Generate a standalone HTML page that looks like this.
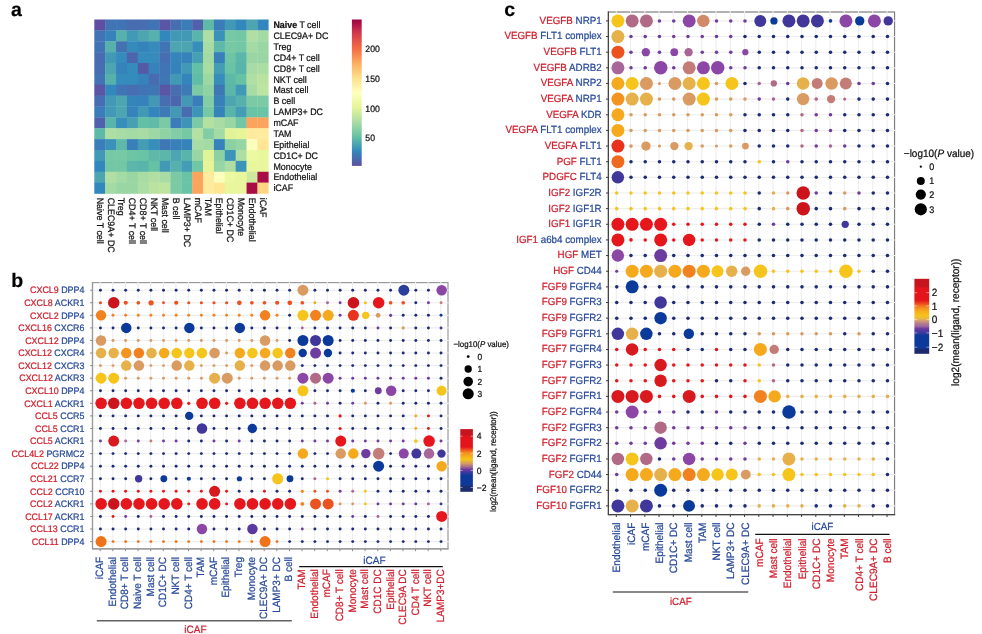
<!DOCTYPE html>
<html><head><meta charset="utf-8"><title>figure</title>
<style>
html,body{margin:0;padding:0;background:#fff;}
body{width:982px;height:634px;overflow:hidden;}
text{stroke-width:0.22px;}
svg{display:block;filter:blur(0.4px);font-family:"Liberation Sans", sans-serif;text-rendering:geometricPrecision;}
</style></head>
<body>
<svg width="982" height="634" viewBox="0 0 982 634">
<rect width="982" height="634" fill="#fff"/>
<text x="11" y="15.8" font-size="19.5" font-weight="bold" fill="#000" stroke="#000">a</text>
<text x="11.2" y="286.6" font-size="19.5" font-weight="bold" fill="#000" stroke="#000">b</text>
<text x="504.3" y="15.8" font-size="19.5" font-weight="bold" fill="#000" stroke="#000">c</text>
<rect x="94.30" y="19.50" width="11.18" height="11.18" fill="#5e4fa2"/>
<rect x="105.17" y="19.50" width="11.18" height="11.18" fill="#4174b4"/>
<rect x="116.05" y="19.50" width="11.18" height="11.18" fill="#4174b4"/>
<rect x="126.92" y="19.50" width="11.18" height="11.18" fill="#486cb0"/>
<rect x="137.80" y="19.50" width="11.18" height="11.18" fill="#466eb1"/>
<rect x="148.68" y="19.50" width="11.18" height="11.18" fill="#4174b4"/>
<rect x="159.55" y="19.50" width="11.18" height="11.18" fill="#5a55a5"/>
<rect x="170.43" y="19.50" width="11.18" height="11.18" fill="#466eb1"/>
<rect x="181.30" y="19.50" width="11.18" height="11.18" fill="#3b7db8"/>
<rect x="192.18" y="19.50" width="11.18" height="11.18" fill="#5160aa"/>
<rect x="203.05" y="19.50" width="11.18" height="11.18" fill="#5eb9a9"/>
<rect x="213.93" y="19.50" width="11.18" height="11.18" fill="#3b7db8"/>
<rect x="224.80" y="19.50" width="11.18" height="11.18" fill="#4299b6"/>
<rect x="235.68" y="19.50" width="11.18" height="11.18" fill="#3288bd"/>
<rect x="246.55" y="19.50" width="11.18" height="11.18" fill="#4ca5b1"/>
<rect x="257.43" y="19.50" width="11.18" height="11.18" fill="#3288bd"/>
<rect x="94.30" y="30.38" width="11.18" height="11.18" fill="#4174b4"/>
<rect x="105.17" y="30.38" width="11.18" height="11.18" fill="#3682ba"/>
<rect x="116.05" y="30.38" width="11.18" height="11.18" fill="#56b1ac"/>
<rect x="126.92" y="30.38" width="11.18" height="11.18" fill="#4299b6"/>
<rect x="137.80" y="30.38" width="11.18" height="11.18" fill="#4ca5b1"/>
<rect x="148.68" y="30.38" width="11.18" height="11.18" fill="#56b1ac"/>
<rect x="159.55" y="30.38" width="11.18" height="11.18" fill="#3288bd"/>
<rect x="170.43" y="30.38" width="11.18" height="11.18" fill="#4299b6"/>
<rect x="181.30" y="30.38" width="11.18" height="11.18" fill="#4299b6"/>
<rect x="192.18" y="30.38" width="11.18" height="11.18" fill="#59b4ab"/>
<rect x="203.05" y="30.38" width="11.18" height="11.18" fill="#aedea3"/>
<rect x="213.93" y="30.38" width="11.18" height="11.18" fill="#3a91b9"/>
<rect x="224.80" y="30.38" width="11.18" height="11.18" fill="#77c9a5"/>
<rect x="235.68" y="30.38" width="11.18" height="11.18" fill="#74c7a5"/>
<rect x="246.55" y="30.38" width="11.18" height="11.18" fill="#b1dfa3"/>
<rect x="257.43" y="30.38" width="11.18" height="11.18" fill="#a4daa4"/>
<rect x="94.30" y="41.25" width="11.18" height="11.18" fill="#4174b4"/>
<rect x="105.17" y="41.25" width="11.18" height="11.18" fill="#56b1ac"/>
<rect x="116.05" y="41.25" width="11.18" height="11.18" fill="#4471b2"/>
<rect x="126.92" y="41.25" width="11.18" height="11.18" fill="#358bbc"/>
<rect x="137.80" y="41.25" width="11.18" height="11.18" fill="#3682ba"/>
<rect x="148.68" y="41.25" width="11.18" height="11.18" fill="#358bbc"/>
<rect x="159.55" y="41.25" width="11.18" height="11.18" fill="#4174b4"/>
<rect x="170.43" y="41.25" width="11.18" height="11.18" fill="#4ca5b1"/>
<rect x="181.30" y="41.25" width="11.18" height="11.18" fill="#4ca5b1"/>
<rect x="192.18" y="41.25" width="11.18" height="11.18" fill="#378ebb"/>
<rect x="203.05" y="41.25" width="11.18" height="11.18" fill="#a8dca4"/>
<rect x="213.93" y="41.25" width="11.18" height="11.18" fill="#5eb9a9"/>
<rect x="224.80" y="41.25" width="11.18" height="11.18" fill="#77c9a5"/>
<rect x="235.68" y="41.25" width="11.18" height="11.18" fill="#74c7a5"/>
<rect x="246.55" y="41.25" width="11.18" height="11.18" fill="#a4daa4"/>
<rect x="257.43" y="41.25" width="11.18" height="11.18" fill="#9ad6a4"/>
<rect x="94.30" y="52.12" width="11.18" height="11.18" fill="#486cb0"/>
<rect x="105.17" y="52.12" width="11.18" height="11.18" fill="#4299b6"/>
<rect x="116.05" y="52.12" width="11.18" height="11.18" fill="#358bbc"/>
<rect x="126.92" y="52.12" width="11.18" height="11.18" fill="#4c66ad"/>
<rect x="137.80" y="52.12" width="11.18" height="11.18" fill="#358bbc"/>
<rect x="148.68" y="52.12" width="11.18" height="11.18" fill="#358bbc"/>
<rect x="159.55" y="52.12" width="11.18" height="11.18" fill="#466eb1"/>
<rect x="170.43" y="52.12" width="11.18" height="11.18" fill="#3485bc"/>
<rect x="181.30" y="52.12" width="11.18" height="11.18" fill="#3682ba"/>
<rect x="192.18" y="52.12" width="11.18" height="11.18" fill="#479fb3"/>
<rect x="203.05" y="52.12" width="11.18" height="11.18" fill="#a4daa4"/>
<rect x="213.93" y="52.12" width="11.18" height="11.18" fill="#397fb9"/>
<rect x="224.80" y="52.12" width="11.18" height="11.18" fill="#6dc5a5"/>
<rect x="235.68" y="52.12" width="11.18" height="11.18" fill="#5cb6aa"/>
<rect x="246.55" y="52.12" width="11.18" height="11.18" fill="#9ad6a4"/>
<rect x="257.43" y="52.12" width="11.18" height="11.18" fill="#9ad6a4"/>
<rect x="94.30" y="63.00" width="11.18" height="11.18" fill="#466eb1"/>
<rect x="105.17" y="63.00" width="11.18" height="11.18" fill="#4ca5b1"/>
<rect x="116.05" y="63.00" width="11.18" height="11.18" fill="#3682ba"/>
<rect x="126.92" y="63.00" width="11.18" height="11.18" fill="#358bbc"/>
<rect x="137.80" y="63.00" width="11.18" height="11.18" fill="#555aa7"/>
<rect x="148.68" y="63.00" width="11.18" height="11.18" fill="#3682ba"/>
<rect x="159.55" y="63.00" width="11.18" height="11.18" fill="#4174b4"/>
<rect x="170.43" y="63.00" width="11.18" height="11.18" fill="#3682ba"/>
<rect x="181.30" y="63.00" width="11.18" height="11.18" fill="#4299b6"/>
<rect x="192.18" y="63.00" width="11.18" height="11.18" fill="#63bfa6"/>
<rect x="203.05" y="63.00" width="11.18" height="11.18" fill="#a8dca4"/>
<rect x="213.93" y="63.00" width="11.18" height="11.18" fill="#449cb5"/>
<rect x="224.80" y="63.00" width="11.18" height="11.18" fill="#69c3a5"/>
<rect x="235.68" y="63.00" width="11.18" height="11.18" fill="#59b4ab"/>
<rect x="246.55" y="63.00" width="11.18" height="11.18" fill="#a8dca4"/>
<rect x="257.43" y="63.00" width="11.18" height="11.18" fill="#abdda4"/>
<rect x="94.30" y="73.88" width="11.18" height="11.18" fill="#4174b4"/>
<rect x="105.17" y="73.88" width="11.18" height="11.18" fill="#56b1ac"/>
<rect x="116.05" y="73.88" width="11.18" height="11.18" fill="#358bbc"/>
<rect x="126.92" y="73.88" width="11.18" height="11.18" fill="#358bbc"/>
<rect x="137.80" y="73.88" width="11.18" height="11.18" fill="#3682ba"/>
<rect x="148.68" y="73.88" width="11.18" height="11.18" fill="#486cb0"/>
<rect x="159.55" y="73.88" width="11.18" height="11.18" fill="#3f77b5"/>
<rect x="170.43" y="73.88" width="11.18" height="11.18" fill="#4299b6"/>
<rect x="181.30" y="73.88" width="11.18" height="11.18" fill="#3485bc"/>
<rect x="192.18" y="73.88" width="11.18" height="11.18" fill="#61bca7"/>
<rect x="203.05" y="73.88" width="11.18" height="11.18" fill="#9dd8a4"/>
<rect x="213.93" y="73.88" width="11.18" height="11.18" fill="#378ebb"/>
<rect x="224.80" y="73.88" width="11.18" height="11.18" fill="#5eb9a9"/>
<rect x="235.68" y="73.88" width="11.18" height="11.18" fill="#66c2a5"/>
<rect x="246.55" y="73.88" width="11.18" height="11.18" fill="#b1dfa3"/>
<rect x="257.43" y="73.88" width="11.18" height="11.18" fill="#bae3a1"/>
<rect x="94.30" y="84.75" width="11.18" height="11.18" fill="#5a55a5"/>
<rect x="105.17" y="84.75" width="11.18" height="11.18" fill="#3288bd"/>
<rect x="116.05" y="84.75" width="11.18" height="11.18" fill="#4174b4"/>
<rect x="126.92" y="84.75" width="11.18" height="11.18" fill="#466eb1"/>
<rect x="137.80" y="84.75" width="11.18" height="11.18" fill="#4174b4"/>
<rect x="148.68" y="84.75" width="11.18" height="11.18" fill="#3f77b5"/>
<rect x="159.55" y="84.75" width="11.18" height="11.18" fill="#5a55a5"/>
<rect x="170.43" y="84.75" width="11.18" height="11.18" fill="#466eb1"/>
<rect x="181.30" y="84.75" width="11.18" height="11.18" fill="#3d7ab6"/>
<rect x="192.18" y="84.75" width="11.18" height="11.18" fill="#7bcaa5"/>
<rect x="203.05" y="84.75" width="11.18" height="11.18" fill="#8fd2a4"/>
<rect x="213.93" y="84.75" width="11.18" height="11.18" fill="#3f77b5"/>
<rect x="224.80" y="84.75" width="11.18" height="11.18" fill="#5cb6aa"/>
<rect x="235.68" y="84.75" width="11.18" height="11.18" fill="#4299b6"/>
<rect x="246.55" y="84.75" width="11.18" height="11.18" fill="#a8dca4"/>
<rect x="257.43" y="84.75" width="11.18" height="11.18" fill="#bde4a0"/>
<rect x="94.30" y="95.62" width="11.18" height="11.18" fill="#466eb1"/>
<rect x="105.17" y="95.62" width="11.18" height="11.18" fill="#4299b6"/>
<rect x="116.05" y="95.62" width="11.18" height="11.18" fill="#4ca5b1"/>
<rect x="126.92" y="95.62" width="11.18" height="11.18" fill="#3485bc"/>
<rect x="137.80" y="95.62" width="11.18" height="11.18" fill="#3682ba"/>
<rect x="148.68" y="95.62" width="11.18" height="11.18" fill="#4299b6"/>
<rect x="159.55" y="95.62" width="11.18" height="11.18" fill="#466eb1"/>
<rect x="170.43" y="95.62" width="11.18" height="11.18" fill="#4c66ad"/>
<rect x="181.30" y="95.62" width="11.18" height="11.18" fill="#4299b6"/>
<rect x="192.18" y="95.62" width="11.18" height="11.18" fill="#3b7db8"/>
<rect x="203.05" y="95.62" width="11.18" height="11.18" fill="#82cda5"/>
<rect x="213.93" y="95.62" width="11.18" height="11.18" fill="#397fb9"/>
<rect x="224.80" y="95.62" width="11.18" height="11.18" fill="#4ca5b1"/>
<rect x="235.68" y="95.62" width="11.18" height="11.18" fill="#56b1ac"/>
<rect x="246.55" y="95.62" width="11.18" height="11.18" fill="#7bcaa5"/>
<rect x="257.43" y="95.62" width="11.18" height="11.18" fill="#7bcaa5"/>
<rect x="94.30" y="106.50" width="11.18" height="11.18" fill="#3b7db8"/>
<rect x="105.17" y="106.50" width="11.18" height="11.18" fill="#4299b6"/>
<rect x="116.05" y="106.50" width="11.18" height="11.18" fill="#4ca5b1"/>
<rect x="126.92" y="106.50" width="11.18" height="11.18" fill="#3682ba"/>
<rect x="137.80" y="106.50" width="11.18" height="11.18" fill="#4299b6"/>
<rect x="148.68" y="106.50" width="11.18" height="11.18" fill="#3485bc"/>
<rect x="159.55" y="106.50" width="11.18" height="11.18" fill="#3d7ab6"/>
<rect x="170.43" y="106.50" width="11.18" height="11.18" fill="#4299b6"/>
<rect x="181.30" y="106.50" width="11.18" height="11.18" fill="#486cb0"/>
<rect x="192.18" y="106.50" width="11.18" height="11.18" fill="#3c94b8"/>
<rect x="203.05" y="106.50" width="11.18" height="11.18" fill="#77c9a5"/>
<rect x="213.93" y="106.50" width="11.18" height="11.18" fill="#3682ba"/>
<rect x="224.80" y="106.50" width="11.18" height="11.18" fill="#59b4ab"/>
<rect x="235.68" y="106.50" width="11.18" height="11.18" fill="#449cb5"/>
<rect x="246.55" y="106.50" width="11.18" height="11.18" fill="#69c3a5"/>
<rect x="257.43" y="106.50" width="11.18" height="11.18" fill="#69c3a5"/>
<rect x="94.30" y="117.38" width="11.18" height="11.18" fill="#5160aa"/>
<rect x="105.17" y="117.38" width="11.18" height="11.18" fill="#59b4ab"/>
<rect x="116.05" y="117.38" width="11.18" height="11.18" fill="#378ebb"/>
<rect x="126.92" y="117.38" width="11.18" height="11.18" fill="#479fb3"/>
<rect x="137.80" y="117.38" width="11.18" height="11.18" fill="#63bfa6"/>
<rect x="148.68" y="117.38" width="11.18" height="11.18" fill="#61bca7"/>
<rect x="159.55" y="117.38" width="11.18" height="11.18" fill="#7bcaa5"/>
<rect x="170.43" y="117.38" width="11.18" height="11.18" fill="#3b7db8"/>
<rect x="181.30" y="117.38" width="11.18" height="11.18" fill="#3c94b8"/>
<rect x="192.18" y="117.38" width="11.18" height="11.18" fill="#7bcaa5"/>
<rect x="203.05" y="117.38" width="11.18" height="11.18" fill="#b4e1a2"/>
<rect x="213.93" y="117.38" width="11.18" height="11.18" fill="#a8dca4"/>
<rect x="224.80" y="117.38" width="11.18" height="11.18" fill="#9ad6a4"/>
<rect x="235.68" y="117.38" width="11.18" height="11.18" fill="#70c6a5"/>
<rect x="246.55" y="117.38" width="11.18" height="11.18" fill="#fca45d"/>
<rect x="257.43" y="117.38" width="11.18" height="11.18" fill="#fca45d"/>
<rect x="94.30" y="128.25" width="11.18" height="11.18" fill="#5eb9a9"/>
<rect x="105.17" y="128.25" width="11.18" height="11.18" fill="#aedea3"/>
<rect x="116.05" y="128.25" width="11.18" height="11.18" fill="#a8dca4"/>
<rect x="126.92" y="128.25" width="11.18" height="11.18" fill="#a4daa4"/>
<rect x="137.80" y="128.25" width="11.18" height="11.18" fill="#a8dca4"/>
<rect x="148.68" y="128.25" width="11.18" height="11.18" fill="#9dd8a4"/>
<rect x="159.55" y="128.25" width="11.18" height="11.18" fill="#8fd2a4"/>
<rect x="170.43" y="128.25" width="11.18" height="11.18" fill="#82cda5"/>
<rect x="181.30" y="128.25" width="11.18" height="11.18" fill="#77c9a5"/>
<rect x="192.18" y="128.25" width="11.18" height="11.18" fill="#b4e1a2"/>
<rect x="203.05" y="128.25" width="11.18" height="11.18" fill="#82cda5"/>
<rect x="213.93" y="128.25" width="11.18" height="11.18" fill="#a4daa4"/>
<rect x="224.80" y="128.25" width="11.18" height="11.18" fill="#e0f399"/>
<rect x="235.68" y="128.25" width="11.18" height="11.18" fill="#e6f598"/>
<rect x="246.55" y="128.25" width="11.18" height="11.18" fill="#feeb9d"/>
<rect x="257.43" y="128.25" width="11.18" height="11.18" fill="#feeb9d"/>
<rect x="94.30" y="139.12" width="11.18" height="11.18" fill="#3b7db8"/>
<rect x="105.17" y="139.12" width="11.18" height="11.18" fill="#3a91b9"/>
<rect x="116.05" y="139.12" width="11.18" height="11.18" fill="#5eb9a9"/>
<rect x="126.92" y="139.12" width="11.18" height="11.18" fill="#397fb9"/>
<rect x="137.80" y="139.12" width="11.18" height="11.18" fill="#449cb5"/>
<rect x="148.68" y="139.12" width="11.18" height="11.18" fill="#378ebb"/>
<rect x="159.55" y="139.12" width="11.18" height="11.18" fill="#3f77b5"/>
<rect x="170.43" y="139.12" width="11.18" height="11.18" fill="#397fb9"/>
<rect x="181.30" y="139.12" width="11.18" height="11.18" fill="#3682ba"/>
<rect x="192.18" y="139.12" width="11.18" height="11.18" fill="#a8dca4"/>
<rect x="203.05" y="139.12" width="11.18" height="11.18" fill="#a4daa4"/>
<rect x="213.93" y="139.12" width="11.18" height="11.18" fill="#3682ba"/>
<rect x="224.80" y="139.12" width="11.18" height="11.18" fill="#8cd1a4"/>
<rect x="235.68" y="139.12" width="11.18" height="11.18" fill="#96d5a4"/>
<rect x="246.55" y="139.12" width="11.18" height="11.18" fill="#fcfebb"/>
<rect x="257.43" y="139.12" width="11.18" height="11.18" fill="#fee695"/>
<rect x="94.30" y="150.00" width="11.18" height="11.18" fill="#4299b6"/>
<rect x="105.17" y="150.00" width="11.18" height="11.18" fill="#77c9a5"/>
<rect x="116.05" y="150.00" width="11.18" height="11.18" fill="#77c9a5"/>
<rect x="126.92" y="150.00" width="11.18" height="11.18" fill="#6dc5a5"/>
<rect x="137.80" y="150.00" width="11.18" height="11.18" fill="#69c3a5"/>
<rect x="148.68" y="150.00" width="11.18" height="11.18" fill="#5eb9a9"/>
<rect x="159.55" y="150.00" width="11.18" height="11.18" fill="#5cb6aa"/>
<rect x="170.43" y="150.00" width="11.18" height="11.18" fill="#4ca5b1"/>
<rect x="181.30" y="150.00" width="11.18" height="11.18" fill="#59b4ab"/>
<rect x="192.18" y="150.00" width="11.18" height="11.18" fill="#9ad6a4"/>
<rect x="203.05" y="150.00" width="11.18" height="11.18" fill="#e0f399"/>
<rect x="213.93" y="150.00" width="11.18" height="11.18" fill="#8cd1a4"/>
<rect x="224.80" y="150.00" width="11.18" height="11.18" fill="#3c94b8"/>
<rect x="235.68" y="150.00" width="11.18" height="11.18" fill="#aedea3"/>
<rect x="246.55" y="150.00" width="11.18" height="11.18" fill="#ecf8a2"/>
<rect x="257.43" y="150.00" width="11.18" height="11.18" fill="#e8f69c"/>
<rect x="94.30" y="160.88" width="11.18" height="11.18" fill="#3288bd"/>
<rect x="105.17" y="160.88" width="11.18" height="11.18" fill="#74c7a5"/>
<rect x="116.05" y="160.88" width="11.18" height="11.18" fill="#74c7a5"/>
<rect x="126.92" y="160.88" width="11.18" height="11.18" fill="#5cb6aa"/>
<rect x="137.80" y="160.88" width="11.18" height="11.18" fill="#59b4ab"/>
<rect x="148.68" y="160.88" width="11.18" height="11.18" fill="#66c2a5"/>
<rect x="159.55" y="160.88" width="11.18" height="11.18" fill="#4299b6"/>
<rect x="170.43" y="160.88" width="11.18" height="11.18" fill="#56b1ac"/>
<rect x="181.30" y="160.88" width="11.18" height="11.18" fill="#449cb5"/>
<rect x="192.18" y="160.88" width="11.18" height="11.18" fill="#70c6a5"/>
<rect x="203.05" y="160.88" width="11.18" height="11.18" fill="#e6f598"/>
<rect x="213.93" y="160.88" width="11.18" height="11.18" fill="#96d5a4"/>
<rect x="224.80" y="160.88" width="11.18" height="11.18" fill="#aedea3"/>
<rect x="235.68" y="160.88" width="11.18" height="11.18" fill="#3c94b8"/>
<rect x="246.55" y="160.88" width="11.18" height="11.18" fill="#e8f69c"/>
<rect x="257.43" y="160.88" width="11.18" height="11.18" fill="#eaf69e"/>
<rect x="94.30" y="171.75" width="11.18" height="11.18" fill="#4ca5b1"/>
<rect x="105.17" y="171.75" width="11.18" height="11.18" fill="#b1dfa3"/>
<rect x="116.05" y="171.75" width="11.18" height="11.18" fill="#a4daa4"/>
<rect x="126.92" y="171.75" width="11.18" height="11.18" fill="#9ad6a4"/>
<rect x="137.80" y="171.75" width="11.18" height="11.18" fill="#a8dca4"/>
<rect x="148.68" y="171.75" width="11.18" height="11.18" fill="#b1dfa3"/>
<rect x="159.55" y="171.75" width="11.18" height="11.18" fill="#a8dca4"/>
<rect x="170.43" y="171.75" width="11.18" height="11.18" fill="#7bcaa5"/>
<rect x="181.30" y="171.75" width="11.18" height="11.18" fill="#69c3a5"/>
<rect x="192.18" y="171.75" width="11.18" height="11.18" fill="#fca45d"/>
<rect x="203.05" y="171.75" width="11.18" height="11.18" fill="#feeb9d"/>
<rect x="213.93" y="171.75" width="11.18" height="11.18" fill="#fcfebb"/>
<rect x="224.80" y="171.75" width="11.18" height="11.18" fill="#ecf8a2"/>
<rect x="235.68" y="171.75" width="11.18" height="11.18" fill="#e8f69c"/>
<rect x="246.55" y="171.75" width="11.18" height="11.18" fill="#ceeb9d"/>
<rect x="257.43" y="171.75" width="11.18" height="11.18" fill="#a90d45"/>
<rect x="94.30" y="182.62" width="11.18" height="11.18" fill="#3288bd"/>
<rect x="105.17" y="182.62" width="11.18" height="11.18" fill="#a4daa4"/>
<rect x="116.05" y="182.62" width="11.18" height="11.18" fill="#9ad6a4"/>
<rect x="126.92" y="182.62" width="11.18" height="11.18" fill="#9ad6a4"/>
<rect x="137.80" y="182.62" width="11.18" height="11.18" fill="#abdda4"/>
<rect x="148.68" y="182.62" width="11.18" height="11.18" fill="#bae3a1"/>
<rect x="159.55" y="182.62" width="11.18" height="11.18" fill="#bde4a0"/>
<rect x="170.43" y="182.62" width="11.18" height="11.18" fill="#7bcaa5"/>
<rect x="181.30" y="182.62" width="11.18" height="11.18" fill="#69c3a5"/>
<rect x="192.18" y="182.62" width="11.18" height="11.18" fill="#fca45d"/>
<rect x="203.05" y="182.62" width="11.18" height="11.18" fill="#feeb9d"/>
<rect x="213.93" y="182.62" width="11.18" height="11.18" fill="#fee695"/>
<rect x="224.80" y="182.62" width="11.18" height="11.18" fill="#e8f69c"/>
<rect x="235.68" y="182.62" width="11.18" height="11.18" fill="#eaf69e"/>
<rect x="246.55" y="182.62" width="11.18" height="11.18" fill="#a90d45"/>
<rect x="257.43" y="182.62" width="11.18" height="11.18" fill="#fed683"/>
<text transform="translate(273.4,28.14) scale(1,1.06)" font-size="8.9" fill="#111" stroke="#111"><tspan font-weight="bold">Naive</tspan> T cell</text>
<text transform="translate(273.4,39.01) scale(1,1.06)" font-size="8.9" fill="#111" stroke="#111">CLEC9A+ DC</text>
<text transform="translate(273.4,49.89) scale(1,1.06)" font-size="8.9" fill="#111" stroke="#111">Treg</text>
<text transform="translate(273.4,60.76) scale(1,1.06)" font-size="8.9" fill="#111" stroke="#111">CD4+ T cell</text>
<text transform="translate(273.4,71.64) scale(1,1.06)" font-size="8.9" fill="#111" stroke="#111">CD8+ T cell</text>
<text transform="translate(273.4,82.51) scale(1,1.06)" font-size="8.9" fill="#111" stroke="#111">NKT cell</text>
<text transform="translate(273.4,93.39) scale(1,1.06)" font-size="8.9" fill="#111" stroke="#111">Mast cell</text>
<text transform="translate(273.4,104.26) scale(1,1.06)" font-size="8.9" fill="#111" stroke="#111">B cell</text>
<text transform="translate(273.4,115.14) scale(1,1.06)" font-size="8.9" fill="#111" stroke="#111">LAMP3+ DC</text>
<text transform="translate(273.4,126.01) scale(1,1.06)" font-size="8.9" fill="#111" stroke="#111">mCAF</text>
<text transform="translate(273.4,136.89) scale(1,1.06)" font-size="8.9" fill="#111" stroke="#111">TAM</text>
<text transform="translate(273.4,147.76) scale(1,1.06)" font-size="8.9" fill="#111" stroke="#111">Epithelial</text>
<text transform="translate(273.4,158.64) scale(1,1.06)" font-size="8.9" fill="#111" stroke="#111">CD1C+ DC</text>
<text transform="translate(273.4,169.51) scale(1,1.06)" font-size="8.9" fill="#111" stroke="#111">Monocyte</text>
<text transform="translate(273.4,180.39) scale(1,1.06)" font-size="8.9" fill="#111" stroke="#111">Endothelial</text>
<text transform="translate(273.4,191.26) scale(1,1.06)" font-size="8.9" fill="#111" stroke="#111">iCAF</text>
<text transform="translate(96.64,197.7) rotate(90) scale(1,1.06)" font-size="8.9" fill="#111" stroke="#111">Naive T cell</text>
<text transform="translate(107.51,197.7) rotate(90) scale(1,1.06)" font-size="8.9" fill="#111" stroke="#111">CLEC9A+ DC</text>
<text transform="translate(118.39,197.7) rotate(90) scale(1,1.06)" font-size="8.9" fill="#111" stroke="#111">Treg</text>
<text transform="translate(129.26,197.7) rotate(90) scale(1,1.06)" font-size="8.9" fill="#111" stroke="#111">CD4+ T cell</text>
<text transform="translate(140.14,197.7) rotate(90) scale(1,1.06)" font-size="8.9" fill="#111" stroke="#111">CD8+ T cell</text>
<text transform="translate(151.01,197.7) rotate(90) scale(1,1.06)" font-size="8.9" fill="#111" stroke="#111">NKT cell</text>
<text transform="translate(161.89,197.7) rotate(90) scale(1,1.06)" font-size="8.9" fill="#111" stroke="#111">Mast cell</text>
<text transform="translate(172.76,197.7) rotate(90) scale(1,1.06)" font-size="8.9" fill="#111" stroke="#111">B cell</text>
<text transform="translate(183.64,197.7) rotate(90) scale(1,1.06)" font-size="8.9" fill="#111" stroke="#111">LAMP3+ DC</text>
<text transform="translate(194.51,197.7) rotate(90) scale(1,1.06)" font-size="8.9" fill="#111" stroke="#111">mCAF</text>
<text transform="translate(205.39,197.7) rotate(90) scale(1,1.06)" font-size="8.9" fill="#111" stroke="#111">TAM</text>
<text transform="translate(216.26,197.7) rotate(90) scale(1,1.06)" font-size="8.9" fill="#111" stroke="#111">Epithelial</text>
<text transform="translate(227.14,197.7) rotate(90) scale(1,1.06)" font-size="8.9" fill="#111" stroke="#111">CD1C+ DC</text>
<text transform="translate(238.01,197.7) rotate(90) scale(1,1.06)" font-size="8.9" fill="#111" stroke="#111">Monocyte</text>
<text transform="translate(248.89,197.7) rotate(90) scale(1,1.06)" font-size="8.9" fill="#111" stroke="#111">Endothelial</text>
<text transform="translate(259.76,197.7) rotate(90) scale(1,1.06)" font-size="8.9" fill="#111" stroke="#111">iCAF</text>
<defs><linearGradient id="ga" x1="0" y1="0" x2="0" y2="1"><stop offset="0.00" stop-color="#9E0142"/><stop offset="0.10" stop-color="#D53E4F"/><stop offset="0.20" stop-color="#F46D43"/><stop offset="0.30" stop-color="#FDAE61"/><stop offset="0.40" stop-color="#FEE08B"/><stop offset="0.50" stop-color="#FFFFBF"/><stop offset="0.60" stop-color="#E6F598"/><stop offset="0.70" stop-color="#ABDDA4"/><stop offset="0.80" stop-color="#66C2A5"/><stop offset="0.90" stop-color="#3288BD"/><stop offset="1.00" stop-color="#5E4FA2"/></linearGradient></defs>
<rect x="351.9" y="19.5" width="9.8" height="146.4" fill="url(#ga)"/>
<text transform="translate(365.3,51.70) scale(1,1.06)" font-size="8.7" fill="#111" stroke="#111">200</text>
<text transform="translate(365.3,81.70) scale(1,1.06)" font-size="8.7" fill="#111" stroke="#111">150</text>
<text transform="translate(365.3,111.80) scale(1,1.06)" font-size="8.7" fill="#111" stroke="#111">100</text>
<text transform="translate(365.3,141.40) scale(1,1.06)" font-size="8.7" fill="#111" stroke="#111">50</text>
<rect x="92.50" y="282.60" width="355.50" height="266.20" fill="none" stroke="#9a9a9a" stroke-width="1.2"/>
<line x1="100.20" y1="281.60" x2="100.20" y2="548.80" stroke="#eeeeee" stroke-width="1.1"/>
<line x1="112.81" y1="281.60" x2="112.81" y2="548.80" stroke="#eeeeee" stroke-width="1.1"/>
<line x1="125.43" y1="281.60" x2="125.43" y2="548.80" stroke="#eeeeee" stroke-width="1.1"/>
<line x1="138.05" y1="281.60" x2="138.05" y2="548.80" stroke="#eeeeee" stroke-width="1.1"/>
<line x1="150.66" y1="281.60" x2="150.66" y2="548.80" stroke="#eeeeee" stroke-width="1.1"/>
<line x1="163.28" y1="281.60" x2="163.28" y2="548.80" stroke="#eeeeee" stroke-width="1.1"/>
<line x1="175.89" y1="281.60" x2="175.89" y2="548.80" stroke="#eeeeee" stroke-width="1.1"/>
<line x1="188.50" y1="281.60" x2="188.50" y2="548.80" stroke="#eeeeee" stroke-width="1.1"/>
<line x1="201.12" y1="281.60" x2="201.12" y2="548.80" stroke="#eeeeee" stroke-width="1.1"/>
<line x1="213.74" y1="281.60" x2="213.74" y2="548.80" stroke="#eeeeee" stroke-width="1.1"/>
<line x1="226.35" y1="281.60" x2="226.35" y2="548.80" stroke="#eeeeee" stroke-width="1.1"/>
<line x1="238.97" y1="281.60" x2="238.97" y2="548.80" stroke="#eeeeee" stroke-width="1.1"/>
<line x1="251.58" y1="281.60" x2="251.58" y2="548.80" stroke="#eeeeee" stroke-width="1.1"/>
<line x1="264.19" y1="281.60" x2="264.19" y2="548.80" stroke="#eeeeee" stroke-width="1.1"/>
<line x1="276.81" y1="281.60" x2="276.81" y2="548.80" stroke="#eeeeee" stroke-width="1.1"/>
<line x1="289.43" y1="281.60" x2="289.43" y2="548.80" stroke="#eeeeee" stroke-width="1.1"/>
<line x1="302.04" y1="281.60" x2="302.04" y2="548.80" stroke="#eeeeee" stroke-width="1.1"/>
<line x1="314.66" y1="281.60" x2="314.66" y2="548.80" stroke="#eeeeee" stroke-width="1.1"/>
<line x1="327.27" y1="281.60" x2="327.27" y2="548.80" stroke="#eeeeee" stroke-width="1.1"/>
<line x1="339.88" y1="281.60" x2="339.88" y2="548.80" stroke="#eeeeee" stroke-width="1.1"/>
<line x1="352.50" y1="281.60" x2="352.50" y2="548.80" stroke="#eeeeee" stroke-width="1.1"/>
<line x1="365.12" y1="281.60" x2="365.12" y2="548.80" stroke="#eeeeee" stroke-width="1.1"/>
<line x1="377.73" y1="281.60" x2="377.73" y2="548.80" stroke="#eeeeee" stroke-width="1.1"/>
<line x1="390.34" y1="281.60" x2="390.34" y2="548.80" stroke="#eeeeee" stroke-width="1.1"/>
<line x1="402.96" y1="281.60" x2="402.96" y2="548.80" stroke="#eeeeee" stroke-width="1.1"/>
<line x1="415.57" y1="281.60" x2="415.57" y2="548.80" stroke="#eeeeee" stroke-width="1.1"/>
<line x1="428.19" y1="281.60" x2="428.19" y2="548.80" stroke="#eeeeee" stroke-width="1.1"/>
<line x1="440.81" y1="281.60" x2="440.81" y2="548.80" stroke="#eeeeee" stroke-width="1.1"/>
<line x1="92.50" y1="290.20" x2="449.00" y2="290.20" stroke="#eeeeee" stroke-width="1.1"/>
<line x1="92.50" y1="302.77" x2="449.00" y2="302.77" stroke="#eeeeee" stroke-width="1.1"/>
<line x1="92.50" y1="315.34" x2="449.00" y2="315.34" stroke="#eeeeee" stroke-width="1.1"/>
<line x1="92.50" y1="327.91" x2="449.00" y2="327.91" stroke="#eeeeee" stroke-width="1.1"/>
<line x1="92.50" y1="340.48" x2="449.00" y2="340.48" stroke="#eeeeee" stroke-width="1.1"/>
<line x1="92.50" y1="353.05" x2="449.00" y2="353.05" stroke="#eeeeee" stroke-width="1.1"/>
<line x1="92.50" y1="365.62" x2="449.00" y2="365.62" stroke="#eeeeee" stroke-width="1.1"/>
<line x1="92.50" y1="378.19" x2="449.00" y2="378.19" stroke="#eeeeee" stroke-width="1.1"/>
<line x1="92.50" y1="390.76" x2="449.00" y2="390.76" stroke="#eeeeee" stroke-width="1.1"/>
<line x1="92.50" y1="403.33" x2="449.00" y2="403.33" stroke="#eeeeee" stroke-width="1.1"/>
<line x1="92.50" y1="415.90" x2="449.00" y2="415.90" stroke="#eeeeee" stroke-width="1.1"/>
<line x1="92.50" y1="428.47" x2="449.00" y2="428.47" stroke="#eeeeee" stroke-width="1.1"/>
<line x1="92.50" y1="441.04" x2="449.00" y2="441.04" stroke="#eeeeee" stroke-width="1.1"/>
<line x1="92.50" y1="453.61" x2="449.00" y2="453.61" stroke="#eeeeee" stroke-width="1.1"/>
<line x1="92.50" y1="466.18" x2="449.00" y2="466.18" stroke="#eeeeee" stroke-width="1.1"/>
<line x1="92.50" y1="478.75" x2="449.00" y2="478.75" stroke="#eeeeee" stroke-width="1.1"/>
<line x1="92.50" y1="491.32" x2="449.00" y2="491.32" stroke="#eeeeee" stroke-width="1.1"/>
<line x1="92.50" y1="503.89" x2="449.00" y2="503.89" stroke="#eeeeee" stroke-width="1.1"/>
<line x1="92.50" y1="516.46" x2="449.00" y2="516.46" stroke="#eeeeee" stroke-width="1.1"/>
<line x1="92.50" y1="529.03" x2="449.00" y2="529.03" stroke="#eeeeee" stroke-width="1.1"/>
<line x1="92.50" y1="541.60" x2="449.00" y2="541.60" stroke="#eeeeee" stroke-width="1.1"/>
<path d="M92.50,282.00 L92.50,548.80 L448.60,548.80" fill="none" stroke="#999999" stroke-width="1.2"/>
<line x1="90.10" y1="290.20" x2="92.50" y2="290.20" stroke="#888" stroke-width="1"/>
<line x1="90.10" y1="302.77" x2="92.50" y2="302.77" stroke="#888" stroke-width="1"/>
<line x1="90.10" y1="315.34" x2="92.50" y2="315.34" stroke="#888" stroke-width="1"/>
<line x1="90.10" y1="327.91" x2="92.50" y2="327.91" stroke="#888" stroke-width="1"/>
<line x1="90.10" y1="340.48" x2="92.50" y2="340.48" stroke="#888" stroke-width="1"/>
<line x1="90.10" y1="353.05" x2="92.50" y2="353.05" stroke="#888" stroke-width="1"/>
<line x1="90.10" y1="365.62" x2="92.50" y2="365.62" stroke="#888" stroke-width="1"/>
<line x1="90.10" y1="378.19" x2="92.50" y2="378.19" stroke="#888" stroke-width="1"/>
<line x1="90.10" y1="390.76" x2="92.50" y2="390.76" stroke="#888" stroke-width="1"/>
<line x1="90.10" y1="403.33" x2="92.50" y2="403.33" stroke="#888" stroke-width="1"/>
<line x1="90.10" y1="415.90" x2="92.50" y2="415.90" stroke="#888" stroke-width="1"/>
<line x1="90.10" y1="428.47" x2="92.50" y2="428.47" stroke="#888" stroke-width="1"/>
<line x1="90.10" y1="441.04" x2="92.50" y2="441.04" stroke="#888" stroke-width="1"/>
<line x1="90.10" y1="453.61" x2="92.50" y2="453.61" stroke="#888" stroke-width="1"/>
<line x1="90.10" y1="466.18" x2="92.50" y2="466.18" stroke="#888" stroke-width="1"/>
<line x1="90.10" y1="478.75" x2="92.50" y2="478.75" stroke="#888" stroke-width="1"/>
<line x1="90.10" y1="491.32" x2="92.50" y2="491.32" stroke="#888" stroke-width="1"/>
<line x1="90.10" y1="503.89" x2="92.50" y2="503.89" stroke="#888" stroke-width="1"/>
<line x1="90.10" y1="516.46" x2="92.50" y2="516.46" stroke="#888" stroke-width="1"/>
<line x1="90.10" y1="529.03" x2="92.50" y2="529.03" stroke="#888" stroke-width="1"/>
<line x1="90.10" y1="541.60" x2="92.50" y2="541.60" stroke="#888" stroke-width="1"/>
<line x1="100.20" y1="548.80" x2="100.20" y2="551.20" stroke="#888" stroke-width="1"/>
<line x1="112.81" y1="548.80" x2="112.81" y2="551.20" stroke="#888" stroke-width="1"/>
<line x1="125.43" y1="548.80" x2="125.43" y2="551.20" stroke="#888" stroke-width="1"/>
<line x1="138.05" y1="548.80" x2="138.05" y2="551.20" stroke="#888" stroke-width="1"/>
<line x1="150.66" y1="548.80" x2="150.66" y2="551.20" stroke="#888" stroke-width="1"/>
<line x1="163.28" y1="548.80" x2="163.28" y2="551.20" stroke="#888" stroke-width="1"/>
<line x1="175.89" y1="548.80" x2="175.89" y2="551.20" stroke="#888" stroke-width="1"/>
<line x1="188.50" y1="548.80" x2="188.50" y2="551.20" stroke="#888" stroke-width="1"/>
<line x1="201.12" y1="548.80" x2="201.12" y2="551.20" stroke="#888" stroke-width="1"/>
<line x1="213.74" y1="548.80" x2="213.74" y2="551.20" stroke="#888" stroke-width="1"/>
<line x1="226.35" y1="548.80" x2="226.35" y2="551.20" stroke="#888" stroke-width="1"/>
<line x1="238.97" y1="548.80" x2="238.97" y2="551.20" stroke="#888" stroke-width="1"/>
<line x1="251.58" y1="548.80" x2="251.58" y2="551.20" stroke="#888" stroke-width="1"/>
<line x1="264.19" y1="548.80" x2="264.19" y2="551.20" stroke="#888" stroke-width="1"/>
<line x1="276.81" y1="548.80" x2="276.81" y2="551.20" stroke="#888" stroke-width="1"/>
<line x1="289.43" y1="548.80" x2="289.43" y2="551.20" stroke="#888" stroke-width="1"/>
<line x1="302.04" y1="548.80" x2="302.04" y2="551.20" stroke="#888" stroke-width="1"/>
<line x1="314.66" y1="548.80" x2="314.66" y2="551.20" stroke="#888" stroke-width="1"/>
<line x1="327.27" y1="548.80" x2="327.27" y2="551.20" stroke="#888" stroke-width="1"/>
<line x1="339.88" y1="548.80" x2="339.88" y2="551.20" stroke="#888" stroke-width="1"/>
<line x1="352.50" y1="548.80" x2="352.50" y2="551.20" stroke="#888" stroke-width="1"/>
<line x1="365.12" y1="548.80" x2="365.12" y2="551.20" stroke="#888" stroke-width="1"/>
<line x1="377.73" y1="548.80" x2="377.73" y2="551.20" stroke="#888" stroke-width="1"/>
<line x1="390.34" y1="548.80" x2="390.34" y2="551.20" stroke="#888" stroke-width="1"/>
<line x1="402.96" y1="548.80" x2="402.96" y2="551.20" stroke="#888" stroke-width="1"/>
<line x1="415.57" y1="548.80" x2="415.57" y2="551.20" stroke="#888" stroke-width="1"/>
<line x1="428.19" y1="548.80" x2="428.19" y2="551.20" stroke="#888" stroke-width="1"/>
<line x1="440.81" y1="548.80" x2="440.81" y2="551.20" stroke="#888" stroke-width="1"/>
<circle cx="100.44" cy="290.20" r="1.47" fill="#1c2b74"/>
<circle cx="113.05" cy="290.20" r="1.47" fill="#1c2b74"/>
<circle cx="125.67" cy="290.20" r="1.47" fill="#1c2b74"/>
<circle cx="138.28" cy="290.20" r="1.47" fill="#1c2b74"/>
<circle cx="150.90" cy="290.20" r="1.47" fill="#1c2b74"/>
<circle cx="163.51" cy="290.20" r="1.47" fill="#1c2b74"/>
<circle cx="176.13" cy="290.20" r="1.47" fill="#1c2b74"/>
<circle cx="188.74" cy="290.20" r="1.47" fill="#1c2b74"/>
<circle cx="201.36" cy="290.20" r="1.47" fill="#1c2b74"/>
<circle cx="213.97" cy="290.20" r="1.47" fill="#1c2b74"/>
<circle cx="226.59" cy="290.20" r="1.47" fill="#1c2b74"/>
<circle cx="239.20" cy="290.20" r="1.47" fill="#1c2b74"/>
<circle cx="251.82" cy="290.20" r="1.47" fill="#1c2b74"/>
<circle cx="264.43" cy="290.20" r="1.47" fill="#1c2b74"/>
<circle cx="277.05" cy="290.20" r="1.47" fill="#1c2b74"/>
<circle cx="289.66" cy="290.20" r="1.47" fill="#1c2b74"/>
<circle cx="302.93" cy="290.20" r="5.51" fill="#d99b62"/>
<circle cx="314.89" cy="290.20" r="1.47" fill="#1c2b74"/>
<circle cx="327.51" cy="290.20" r="1.47" fill="#1c2b74"/>
<circle cx="340.12" cy="290.20" r="1.47" fill="#1c2b74"/>
<circle cx="352.74" cy="290.20" r="1.47" fill="#1c2b74"/>
<circle cx="365.35" cy="290.20" r="1.47" fill="#1c2b74"/>
<circle cx="377.97" cy="290.20" r="1.47" fill="#1c2b74"/>
<circle cx="390.58" cy="290.20" r="1.47" fill="#1c2b74"/>
<circle cx="403.85" cy="290.20" r="5.51" fill="#2a3f9c"/>
<circle cx="415.81" cy="290.20" r="1.47" fill="#1c2b74"/>
<circle cx="428.43" cy="290.20" r="1.47" fill="#1c2b74"/>
<circle cx="441.66" cy="290.20" r="5.25" fill="#8c47a6"/>
<circle cx="100.45" cy="302.77" r="1.58" fill="#ec5220"/>
<circle cx="113.75" cy="302.77" r="5.78" fill="#cc141d"/>
<circle cx="125.77" cy="302.77" r="2.10" fill="#ec5220"/>
<circle cx="138.34" cy="302.77" r="1.84" fill="#ec5220"/>
<circle cx="151.09" cy="302.77" r="2.62" fill="#ec5220"/>
<circle cx="163.51" cy="302.77" r="1.47" fill="#ec5220"/>
<circle cx="176.23" cy="302.77" r="2.10" fill="#ec5220"/>
<circle cx="188.76" cy="302.77" r="1.58" fill="#ec5220"/>
<circle cx="201.38" cy="302.77" r="1.58" fill="#ec5220"/>
<circle cx="213.99" cy="302.77" r="1.58" fill="#ec5220"/>
<circle cx="226.61" cy="302.77" r="1.58" fill="#ec5220"/>
<circle cx="239.35" cy="302.77" r="2.36" fill="#ec5220"/>
<circle cx="251.88" cy="302.77" r="1.84" fill="#ec5220"/>
<circle cx="264.49" cy="302.77" r="1.84" fill="#ec5220"/>
<circle cx="277.15" cy="302.77" r="2.10" fill="#ec5220"/>
<circle cx="289.81" cy="302.77" r="2.36" fill="#ec5220"/>
<circle cx="302.34" cy="302.77" r="1.84" fill="#ec5220"/>
<circle cx="314.89" cy="302.77" r="1.47" fill="#f5aa1e"/>
<circle cx="327.51" cy="302.77" r="1.47" fill="#a8659a"/>
<circle cx="340.12" cy="302.77" r="1.47" fill="#6e3c9e"/>
<circle cx="353.44" cy="302.77" r="5.78" fill="#cc141d"/>
<circle cx="365.37" cy="302.77" r="1.58" fill="#f6c51b"/>
<circle cx="378.67" cy="302.77" r="5.78" fill="#e5171c"/>
<circle cx="390.64" cy="302.77" r="1.84" fill="#ec5220"/>
<circle cx="403.26" cy="302.77" r="1.84" fill="#ec5220"/>
<circle cx="415.81" cy="302.77" r="1.47" fill="#1c2b74"/>
<circle cx="428.43" cy="302.77" r="1.47" fill="#6e3c9e"/>
<circle cx="441.04" cy="302.77" r="1.47" fill="#c47c78"/>
<circle cx="101.05" cy="315.34" r="5.25" fill="#f2821f"/>
<circle cx="113.05" cy="315.34" r="1.47" fill="#f2821f"/>
<circle cx="125.67" cy="315.34" r="1.47" fill="#f2821f"/>
<circle cx="138.28" cy="315.34" r="1.47" fill="#f2821f"/>
<circle cx="150.90" cy="315.34" r="1.47" fill="#f2821f"/>
<circle cx="163.51" cy="315.34" r="1.47" fill="#f2821f"/>
<circle cx="176.13" cy="315.34" r="1.47" fill="#f2821f"/>
<circle cx="188.74" cy="315.34" r="1.47" fill="#f2821f"/>
<circle cx="201.36" cy="315.34" r="1.47" fill="#f2821f"/>
<circle cx="213.97" cy="315.34" r="1.47" fill="#f2821f"/>
<circle cx="226.59" cy="315.34" r="1.47" fill="#f2821f"/>
<circle cx="239.20" cy="315.34" r="1.47" fill="#f2821f"/>
<circle cx="251.82" cy="315.34" r="1.47" fill="#f2821f"/>
<circle cx="265.05" cy="315.34" r="5.25" fill="#f2821f"/>
<circle cx="277.05" cy="315.34" r="1.47" fill="#f2821f"/>
<circle cx="289.66" cy="315.34" r="1.47" fill="#1c2b74"/>
<circle cx="302.93" cy="315.34" r="5.51" fill="#f6c51b"/>
<circle cx="315.55" cy="315.34" r="5.51" fill="#f2821f"/>
<circle cx="328.16" cy="315.34" r="5.51" fill="#f5aa1e"/>
<circle cx="340.12" cy="315.34" r="1.47" fill="#6e3c9e"/>
<circle cx="353.39" cy="315.34" r="5.51" fill="#e8321e"/>
<circle cx="365.71" cy="315.34" r="3.68" fill="#f6c51b"/>
<circle cx="378.11" cy="315.34" r="2.36" fill="#d99b62"/>
<circle cx="390.60" cy="315.34" r="1.58" fill="#6e3c9e"/>
<circle cx="403.20" cy="315.34" r="1.47" fill="#1c2b74"/>
<circle cx="415.81" cy="315.34" r="1.47" fill="#1c2b74"/>
<circle cx="428.43" cy="315.34" r="1.47" fill="#1c2b74"/>
<circle cx="441.04" cy="315.34" r="1.47" fill="#0c3a9b"/>
<circle cx="100.44" cy="327.91" r="1.47" fill="#1c2b74"/>
<circle cx="113.05" cy="327.91" r="1.47" fill="#1c2b74"/>
<circle cx="126.28" cy="327.91" r="5.25" fill="#0c3a9b"/>
<circle cx="138.28" cy="327.91" r="1.47" fill="#1c2b74"/>
<circle cx="150.90" cy="327.91" r="1.47" fill="#1c2b74"/>
<circle cx="163.51" cy="327.91" r="1.47" fill="#1c2b74"/>
<circle cx="176.13" cy="327.91" r="1.47" fill="#1c2b74"/>
<circle cx="189.35" cy="327.91" r="5.25" fill="#0c3a9b"/>
<circle cx="201.36" cy="327.91" r="1.47" fill="#1c2b74"/>
<circle cx="213.97" cy="327.91" r="1.47" fill="#1c2b74"/>
<circle cx="226.59" cy="327.91" r="1.47" fill="#1c2b74"/>
<circle cx="239.82" cy="327.91" r="5.25" fill="#0c3a9b"/>
<circle cx="251.82" cy="327.91" r="1.47" fill="#1c2b74"/>
<circle cx="264.43" cy="327.91" r="1.47" fill="#1c2b74"/>
<circle cx="277.05" cy="327.91" r="1.47" fill="#1c2b74"/>
<circle cx="289.66" cy="327.91" r="1.47" fill="#1c2b74"/>
<circle cx="302.28" cy="327.91" r="1.47" fill="#a8659a"/>
<circle cx="314.89" cy="327.91" r="1.47" fill="#1c2b74"/>
<circle cx="327.51" cy="327.91" r="1.47" fill="#1c2b74"/>
<circle cx="340.12" cy="327.91" r="1.47" fill="#1c2b74"/>
<circle cx="352.74" cy="327.91" r="1.47" fill="#1c2b74"/>
<circle cx="365.35" cy="327.91" r="1.47" fill="#1c2b74"/>
<circle cx="377.97" cy="327.91" r="1.47" fill="#6e3c9e"/>
<circle cx="390.58" cy="327.91" r="1.47" fill="#1c2b74"/>
<circle cx="403.21" cy="327.91" r="1.58" fill="#d99b62"/>
<circle cx="415.81" cy="327.91" r="1.47" fill="#1c2b74"/>
<circle cx="428.43" cy="327.91" r="1.47" fill="#1c2b74"/>
<circle cx="441.04" cy="327.91" r="1.47" fill="#41379a"/>
<circle cx="101.05" cy="340.48" r="5.25" fill="#d99b62"/>
<circle cx="113.05" cy="340.48" r="1.47" fill="#d99b62"/>
<circle cx="125.67" cy="340.48" r="1.47" fill="#d99b62"/>
<circle cx="138.28" cy="340.48" r="1.47" fill="#d99b62"/>
<circle cx="150.90" cy="340.48" r="1.47" fill="#d99b62"/>
<circle cx="163.51" cy="340.48" r="1.47" fill="#d99b62"/>
<circle cx="176.13" cy="340.48" r="1.47" fill="#d99b62"/>
<circle cx="188.74" cy="340.48" r="1.47" fill="#d99b62"/>
<circle cx="201.36" cy="340.48" r="1.47" fill="#d99b62"/>
<circle cx="213.97" cy="340.48" r="1.47" fill="#d99b62"/>
<circle cx="226.59" cy="340.48" r="1.47" fill="#d99b62"/>
<circle cx="239.20" cy="340.48" r="1.47" fill="#d99b62"/>
<circle cx="251.82" cy="340.48" r="1.47" fill="#d99b62"/>
<circle cx="265.05" cy="340.48" r="5.25" fill="#d99b62"/>
<circle cx="277.05" cy="340.48" r="1.47" fill="#d99b62"/>
<circle cx="289.66" cy="340.48" r="1.47" fill="#1c2b74"/>
<circle cx="302.93" cy="340.48" r="5.51" fill="#0c3a9b"/>
<circle cx="315.55" cy="340.48" r="5.51" fill="#41379a"/>
<circle cx="328.16" cy="340.48" r="5.51" fill="#0c3a9b"/>
<circle cx="340.12" cy="340.48" r="1.47" fill="#1c2b74"/>
<circle cx="352.74" cy="340.48" r="1.47" fill="#1c2b74"/>
<circle cx="365.35" cy="340.48" r="1.47" fill="#1c2b74"/>
<circle cx="377.97" cy="340.48" r="1.47" fill="#1c2b74"/>
<circle cx="390.58" cy="340.48" r="1.47" fill="#1c2b74"/>
<circle cx="403.20" cy="340.48" r="1.47" fill="#1c2b74"/>
<circle cx="415.81" cy="340.48" r="1.47" fill="#1c2b74"/>
<circle cx="428.43" cy="340.48" r="1.47" fill="#1c2b74"/>
<circle cx="441.04" cy="340.48" r="1.47" fill="#1c2b74"/>
<circle cx="101.05" cy="353.05" r="5.25" fill="#e6b04a"/>
<circle cx="113.66" cy="353.05" r="5.25" fill="#e6b04a"/>
<circle cx="126.28" cy="353.05" r="5.25" fill="#f39420"/>
<circle cx="138.90" cy="353.05" r="5.25" fill="#f2821f"/>
<circle cx="151.51" cy="353.05" r="5.25" fill="#e6b04a"/>
<circle cx="164.12" cy="353.05" r="5.25" fill="#f5aa1e"/>
<circle cx="176.74" cy="353.05" r="5.25" fill="#f6c51b"/>
<circle cx="189.35" cy="353.05" r="5.25" fill="#f6c51b"/>
<circle cx="201.97" cy="353.05" r="5.25" fill="#f6c51b"/>
<circle cx="214.59" cy="353.05" r="5.25" fill="#d99b62"/>
<circle cx="226.59" cy="353.05" r="1.47" fill="#d99b62"/>
<circle cx="239.82" cy="353.05" r="5.25" fill="#f5aa1e"/>
<circle cx="252.43" cy="353.05" r="5.25" fill="#f6c51b"/>
<circle cx="265.05" cy="353.05" r="5.25" fill="#f5aa1e"/>
<circle cx="277.66" cy="353.05" r="5.25" fill="#f6c51b"/>
<circle cx="290.28" cy="353.05" r="5.25" fill="#f2821f"/>
<circle cx="302.72" cy="353.05" r="4.20" fill="#0c3a9b"/>
<circle cx="315.55" cy="353.05" r="5.51" fill="#6e3c9e"/>
<circle cx="327.95" cy="353.05" r="4.20" fill="#0c3a9b"/>
<circle cx="340.12" cy="353.05" r="1.47" fill="#1c2b74"/>
<circle cx="352.74" cy="353.05" r="1.47" fill="#1c2b74"/>
<circle cx="365.35" cy="353.05" r="1.47" fill="#1c2b74"/>
<circle cx="377.97" cy="353.05" r="1.47" fill="#1c2b74"/>
<circle cx="390.58" cy="353.05" r="1.47" fill="#1c2b74"/>
<circle cx="403.20" cy="353.05" r="1.47" fill="#1c2b74"/>
<circle cx="415.81" cy="353.05" r="1.47" fill="#1c2b74"/>
<circle cx="428.43" cy="353.05" r="1.47" fill="#1c2b74"/>
<circle cx="441.04" cy="353.05" r="1.47" fill="#1c2b74"/>
<circle cx="100.44" cy="365.62" r="1.47" fill="#d99b62"/>
<circle cx="113.05" cy="365.62" r="1.47" fill="#d99b62"/>
<circle cx="126.28" cy="365.62" r="5.25" fill="#e6b04a"/>
<circle cx="138.90" cy="365.62" r="5.25" fill="#d99b62"/>
<circle cx="150.90" cy="365.62" r="1.47" fill="#d99b62"/>
<circle cx="163.51" cy="365.62" r="1.47" fill="#d99b62"/>
<circle cx="176.74" cy="365.62" r="5.25" fill="#d99b62"/>
<circle cx="189.35" cy="365.62" r="5.25" fill="#e6b04a"/>
<circle cx="201.36" cy="365.62" r="1.47" fill="#d99b62"/>
<circle cx="213.97" cy="365.62" r="1.47" fill="#d99b62"/>
<circle cx="226.59" cy="365.62" r="1.47" fill="#d99b62"/>
<circle cx="239.82" cy="365.62" r="5.25" fill="#e6b04a"/>
<circle cx="251.82" cy="365.62" r="1.47" fill="#d99b62"/>
<circle cx="265.05" cy="365.62" r="5.25" fill="#d99b62"/>
<circle cx="277.66" cy="365.62" r="5.25" fill="#d99b62"/>
<circle cx="290.28" cy="365.62" r="5.25" fill="#d99b62"/>
<circle cx="302.28" cy="365.62" r="1.47" fill="#1c2b74"/>
<circle cx="314.89" cy="365.62" r="1.47" fill="#1c2b74"/>
<circle cx="327.51" cy="365.62" r="1.47" fill="#1c2b74"/>
<circle cx="340.12" cy="365.62" r="1.47" fill="#1c2b74"/>
<circle cx="352.74" cy="365.62" r="1.47" fill="#1c2b74"/>
<circle cx="365.35" cy="365.62" r="1.47" fill="#1c2b74"/>
<circle cx="377.97" cy="365.62" r="1.47" fill="#1c2b74"/>
<circle cx="390.58" cy="365.62" r="1.47" fill="#1c2b74"/>
<circle cx="403.20" cy="365.62" r="1.47" fill="#1c2b74"/>
<circle cx="415.81" cy="365.62" r="1.47" fill="#1c2b74"/>
<circle cx="428.43" cy="365.62" r="1.47" fill="#1c2b74"/>
<circle cx="441.04" cy="365.62" r="1.47" fill="#1c2b74"/>
<circle cx="101.09" cy="378.19" r="5.51" fill="#f6c51b"/>
<circle cx="113.71" cy="378.19" r="5.51" fill="#f6c51b"/>
<circle cx="125.67" cy="378.19" r="1.47" fill="#d99b62"/>
<circle cx="138.28" cy="378.19" r="1.47" fill="#d99b62"/>
<circle cx="150.90" cy="378.19" r="1.47" fill="#d99b62"/>
<circle cx="163.51" cy="378.19" r="1.47" fill="#d99b62"/>
<circle cx="176.13" cy="378.19" r="1.47" fill="#d99b62"/>
<circle cx="188.74" cy="378.19" r="1.47" fill="#d99b62"/>
<circle cx="201.36" cy="378.19" r="1.47" fill="#d99b62"/>
<circle cx="214.63" cy="378.19" r="5.51" fill="#e6b04a"/>
<circle cx="227.24" cy="378.19" r="5.51" fill="#d99b62"/>
<circle cx="239.20" cy="378.19" r="1.47" fill="#d99b62"/>
<circle cx="251.82" cy="378.19" r="1.47" fill="#d99b62"/>
<circle cx="264.43" cy="378.19" r="1.47" fill="#d99b62"/>
<circle cx="277.05" cy="378.19" r="1.47" fill="#d99b62"/>
<circle cx="289.66" cy="378.19" r="1.47" fill="#d99b62"/>
<circle cx="302.93" cy="378.19" r="5.51" fill="#8c47a6"/>
<circle cx="315.55" cy="378.19" r="5.51" fill="#b06a86"/>
<circle cx="328.16" cy="378.19" r="5.51" fill="#8c47a6"/>
<circle cx="340.12" cy="378.19" r="1.47" fill="#6e3c9e"/>
<circle cx="352.74" cy="378.19" r="1.47" fill="#6e3c9e"/>
<circle cx="365.35" cy="378.19" r="1.47" fill="#6e3c9e"/>
<circle cx="377.97" cy="378.19" r="1.47" fill="#6e3c9e"/>
<circle cx="390.58" cy="378.19" r="1.47" fill="#6e3c9e"/>
<circle cx="403.20" cy="378.19" r="1.47" fill="#6e3c9e"/>
<circle cx="415.81" cy="378.19" r="1.47" fill="#6e3c9e"/>
<circle cx="428.43" cy="378.19" r="1.47" fill="#6e3c9e"/>
<circle cx="441.04" cy="378.19" r="1.47" fill="#1c2b74"/>
<circle cx="100.44" cy="390.76" r="1.47" fill="#1c2b74"/>
<circle cx="113.05" cy="390.76" r="1.47" fill="#1c2b74"/>
<circle cx="125.67" cy="390.76" r="1.47" fill="#1c2b74"/>
<circle cx="138.28" cy="390.76" r="1.47" fill="#1c2b74"/>
<circle cx="150.90" cy="390.76" r="1.47" fill="#1c2b74"/>
<circle cx="163.51" cy="390.76" r="1.47" fill="#1c2b74"/>
<circle cx="176.13" cy="390.76" r="1.47" fill="#1c2b74"/>
<circle cx="188.74" cy="390.76" r="1.47" fill="#1c2b74"/>
<circle cx="201.36" cy="390.76" r="1.47" fill="#1c2b74"/>
<circle cx="213.97" cy="390.76" r="1.47" fill="#1c2b74"/>
<circle cx="226.59" cy="390.76" r="1.47" fill="#1c2b74"/>
<circle cx="239.20" cy="390.76" r="1.47" fill="#1c2b74"/>
<circle cx="251.82" cy="390.76" r="1.47" fill="#1c2b74"/>
<circle cx="264.43" cy="390.76" r="1.47" fill="#1c2b74"/>
<circle cx="277.05" cy="390.76" r="1.47" fill="#1c2b74"/>
<circle cx="289.66" cy="390.76" r="1.47" fill="#1c2b74"/>
<circle cx="302.93" cy="390.76" r="5.51" fill="#f6c51b"/>
<circle cx="314.89" cy="390.76" r="1.47" fill="#1c2b74"/>
<circle cx="327.51" cy="390.76" r="1.47" fill="#1c2b74"/>
<circle cx="340.12" cy="390.76" r="1.47" fill="#1c2b74"/>
<circle cx="352.84" cy="390.76" r="2.10" fill="#0c3a9b"/>
<circle cx="365.35" cy="390.76" r="1.47" fill="#1c2b74"/>
<circle cx="378.28" cy="390.76" r="3.41" fill="#6e3c9e"/>
<circle cx="391.19" cy="390.76" r="5.25" fill="#8c47a6"/>
<circle cx="403.20" cy="390.76" r="1.47" fill="#1c2b74"/>
<circle cx="415.81" cy="390.76" r="1.47" fill="#1c2b74"/>
<circle cx="428.43" cy="390.76" r="1.47" fill="#1c2b74"/>
<circle cx="441.61" cy="390.76" r="4.99" fill="#f6c51b"/>
<circle cx="101.14" cy="403.33" r="5.78" fill="#e5171c"/>
<circle cx="113.75" cy="403.33" r="5.78" fill="#cc141d"/>
<circle cx="126.37" cy="403.33" r="5.78" fill="#e5171c"/>
<circle cx="138.98" cy="403.33" r="5.78" fill="#e5171c"/>
<circle cx="151.59" cy="403.33" r="5.78" fill="#e5171c"/>
<circle cx="164.21" cy="403.33" r="5.78" fill="#e5171c"/>
<circle cx="176.82" cy="403.33" r="5.78" fill="#e5171c"/>
<circle cx="188.76" cy="403.33" r="1.58" fill="#e5171c"/>
<circle cx="202.06" cy="403.33" r="5.78" fill="#e5171c"/>
<circle cx="214.67" cy="403.33" r="5.78" fill="#e5171c"/>
<circle cx="226.61" cy="403.33" r="1.58" fill="#e5171c"/>
<circle cx="239.90" cy="403.33" r="5.78" fill="#e5171c"/>
<circle cx="252.51" cy="403.33" r="5.78" fill="#e5171c"/>
<circle cx="265.13" cy="403.33" r="5.78" fill="#e5171c"/>
<circle cx="277.75" cy="403.33" r="5.78" fill="#e5171c"/>
<circle cx="290.36" cy="403.33" r="5.78" fill="#e5171c"/>
<circle cx="302.28" cy="403.33" r="1.47" fill="#6e3c9e"/>
<circle cx="314.89" cy="403.33" r="1.47" fill="#a8659a"/>
<circle cx="327.51" cy="403.33" r="1.47" fill="#6e3c9e"/>
<circle cx="340.12" cy="403.33" r="1.47" fill="#1c2b74"/>
<circle cx="352.74" cy="403.33" r="1.47" fill="#6e3c9e"/>
<circle cx="365.35" cy="403.33" r="1.47" fill="#d99b62"/>
<circle cx="377.97" cy="403.33" r="1.47" fill="#1c2b74"/>
<circle cx="390.58" cy="403.33" r="1.47" fill="#d99b62"/>
<circle cx="403.20" cy="403.33" r="1.47" fill="#1c2b74"/>
<circle cx="415.81" cy="403.33" r="1.47" fill="#1c2b74"/>
<circle cx="428.43" cy="403.33" r="1.47" fill="#1c2b74"/>
<circle cx="441.04" cy="403.33" r="1.47" fill="#1c2b74"/>
<circle cx="100.44" cy="415.90" r="1.47" fill="#1c2b74"/>
<circle cx="113.05" cy="415.90" r="1.47" fill="#1c2b74"/>
<circle cx="125.67" cy="415.90" r="1.47" fill="#1c2b74"/>
<circle cx="138.28" cy="415.90" r="1.47" fill="#1c2b74"/>
<circle cx="150.90" cy="415.90" r="1.47" fill="#1c2b74"/>
<circle cx="163.51" cy="415.90" r="1.47" fill="#1c2b74"/>
<circle cx="176.13" cy="415.90" r="1.47" fill="#1c2b74"/>
<circle cx="189.19" cy="415.90" r="4.20" fill="#0c3a9b"/>
<circle cx="201.36" cy="415.90" r="1.47" fill="#1c2b74"/>
<circle cx="213.97" cy="415.90" r="1.47" fill="#1c2b74"/>
<circle cx="226.59" cy="415.90" r="1.47" fill="#1c2b74"/>
<circle cx="239.20" cy="415.90" r="1.47" fill="#1c2b74"/>
<circle cx="251.82" cy="415.90" r="1.47" fill="#1c2b74"/>
<circle cx="264.43" cy="415.90" r="1.47" fill="#1c2b74"/>
<circle cx="277.05" cy="415.90" r="1.47" fill="#1c2b74"/>
<circle cx="289.66" cy="415.90" r="1.47" fill="#1c2b74"/>
<circle cx="302.28" cy="415.90" r="1.47" fill="#1c2b74"/>
<circle cx="314.89" cy="415.90" r="1.47" fill="#1c2b74"/>
<circle cx="327.51" cy="415.90" r="1.47" fill="#1c2b74"/>
<circle cx="340.14" cy="415.90" r="1.58" fill="#e5171c"/>
<circle cx="352.74" cy="415.90" r="1.47" fill="#1c2b74"/>
<circle cx="365.35" cy="415.90" r="1.47" fill="#1c2b74"/>
<circle cx="377.97" cy="415.90" r="1.47" fill="#1c2b74"/>
<circle cx="390.58" cy="415.90" r="1.47" fill="#1c2b74"/>
<circle cx="403.20" cy="415.90" r="1.47" fill="#1c2b74"/>
<circle cx="415.81" cy="415.90" r="1.47" fill="#f5aa1e"/>
<circle cx="428.43" cy="415.90" r="1.47" fill="#e5171c"/>
<circle cx="441.04" cy="415.90" r="1.47" fill="#1c2b74"/>
<circle cx="100.44" cy="428.47" r="1.47" fill="#1c2b74"/>
<circle cx="113.05" cy="428.47" r="1.47" fill="#1c2b74"/>
<circle cx="125.67" cy="428.47" r="1.47" fill="#1c2b74"/>
<circle cx="138.28" cy="428.47" r="1.47" fill="#1c2b74"/>
<circle cx="150.90" cy="428.47" r="1.47" fill="#1c2b74"/>
<circle cx="163.51" cy="428.47" r="1.47" fill="#1c2b74"/>
<circle cx="176.13" cy="428.47" r="1.47" fill="#1c2b74"/>
<circle cx="188.74" cy="428.47" r="1.47" fill="#1c2b74"/>
<circle cx="201.97" cy="428.47" r="5.25" fill="#41379a"/>
<circle cx="213.97" cy="428.47" r="1.47" fill="#1c2b74"/>
<circle cx="226.59" cy="428.47" r="1.47" fill="#1c2b74"/>
<circle cx="239.20" cy="428.47" r="1.47" fill="#1c2b74"/>
<circle cx="252.34" cy="428.47" r="4.73" fill="#0c3a9b"/>
<circle cx="264.43" cy="428.47" r="1.47" fill="#1c2b74"/>
<circle cx="277.05" cy="428.47" r="1.47" fill="#1c2b74"/>
<circle cx="289.66" cy="428.47" r="1.47" fill="#1c2b74"/>
<circle cx="302.28" cy="428.47" r="1.47" fill="#1c2b74"/>
<circle cx="314.89" cy="428.47" r="1.47" fill="#1c2b74"/>
<circle cx="327.51" cy="428.47" r="1.47" fill="#1c2b74"/>
<circle cx="340.14" cy="428.47" r="1.58" fill="#e5171c"/>
<circle cx="352.74" cy="428.47" r="1.47" fill="#1c2b74"/>
<circle cx="365.35" cy="428.47" r="1.47" fill="#1c2b74"/>
<circle cx="377.97" cy="428.47" r="1.47" fill="#1c2b74"/>
<circle cx="390.58" cy="428.47" r="1.47" fill="#1c2b74"/>
<circle cx="403.20" cy="428.47" r="1.47" fill="#1c2b74"/>
<circle cx="415.81" cy="428.47" r="1.47" fill="#f5aa1e"/>
<circle cx="428.43" cy="428.47" r="1.47" fill="#e5171c"/>
<circle cx="441.04" cy="428.47" r="1.47" fill="#1c2b74"/>
<circle cx="100.44" cy="441.04" r="1.47" fill="#6e3c9e"/>
<circle cx="113.71" cy="441.04" r="5.51" fill="#d81a1f"/>
<circle cx="125.67" cy="441.04" r="1.47" fill="#a8659a"/>
<circle cx="138.28" cy="441.04" r="1.47" fill="#6e3c9e"/>
<circle cx="150.90" cy="441.04" r="1.47" fill="#c47c78"/>
<circle cx="163.51" cy="441.04" r="1.47" fill="#6e3c9e"/>
<circle cx="176.13" cy="441.04" r="1.47" fill="#6e3c9e"/>
<circle cx="188.74" cy="441.04" r="1.47" fill="#1c2b74"/>
<circle cx="201.36" cy="441.04" r="1.47" fill="#1c2b74"/>
<circle cx="213.97" cy="441.04" r="1.47" fill="#6e3c9e"/>
<circle cx="226.59" cy="441.04" r="1.47" fill="#1c2b74"/>
<circle cx="239.20" cy="441.04" r="1.47" fill="#6e3c9e"/>
<circle cx="251.82" cy="441.04" r="1.47" fill="#1c2b74"/>
<circle cx="264.43" cy="441.04" r="1.47" fill="#1c2b74"/>
<circle cx="277.05" cy="441.04" r="1.47" fill="#1c2b74"/>
<circle cx="289.66" cy="441.04" r="1.47" fill="#1c2b74"/>
<circle cx="302.28" cy="441.04" r="1.47" fill="#6e3c9e"/>
<circle cx="314.89" cy="441.04" r="1.47" fill="#6e3c9e"/>
<circle cx="327.51" cy="441.04" r="1.47" fill="#6e3c9e"/>
<circle cx="340.78" cy="441.04" r="5.51" fill="#e5171c"/>
<circle cx="352.74" cy="441.04" r="1.47" fill="#6e3c9e"/>
<circle cx="365.35" cy="441.04" r="1.47" fill="#6e3c9e"/>
<circle cx="377.97" cy="441.04" r="1.47" fill="#6e3c9e"/>
<circle cx="390.58" cy="441.04" r="1.47" fill="#6e3c9e"/>
<circle cx="403.20" cy="441.04" r="1.47" fill="#6e3c9e"/>
<circle cx="415.87" cy="441.04" r="1.84" fill="#f6c51b"/>
<circle cx="429.12" cy="441.04" r="5.78" fill="#e5171c"/>
<circle cx="441.04" cy="441.04" r="1.47" fill="#6e3c9e"/>
<circle cx="100.44" cy="453.61" r="1.47" fill="#1c2b74"/>
<circle cx="113.05" cy="453.61" r="1.47" fill="#1c2b74"/>
<circle cx="125.67" cy="453.61" r="1.47" fill="#1c2b74"/>
<circle cx="138.28" cy="453.61" r="1.47" fill="#1c2b74"/>
<circle cx="150.90" cy="453.61" r="1.47" fill="#1c2b74"/>
<circle cx="163.51" cy="453.61" r="1.47" fill="#1c2b74"/>
<circle cx="176.13" cy="453.61" r="1.47" fill="#1c2b74"/>
<circle cx="188.74" cy="453.61" r="1.47" fill="#1c2b74"/>
<circle cx="201.36" cy="453.61" r="1.47" fill="#1c2b74"/>
<circle cx="213.97" cy="453.61" r="1.47" fill="#1c2b74"/>
<circle cx="226.59" cy="453.61" r="1.47" fill="#1c2b74"/>
<circle cx="239.20" cy="453.61" r="1.47" fill="#1c2b74"/>
<circle cx="251.82" cy="453.61" r="1.47" fill="#1c2b74"/>
<circle cx="264.43" cy="453.61" r="1.47" fill="#1c2b74"/>
<circle cx="277.05" cy="453.61" r="1.47" fill="#1c2b74"/>
<circle cx="289.66" cy="453.61" r="1.47" fill="#1c2b74"/>
<circle cx="302.89" cy="453.61" r="5.25" fill="#f5aa1e"/>
<circle cx="314.89" cy="453.61" r="1.47" fill="#1c2b74"/>
<circle cx="327.51" cy="453.61" r="1.47" fill="#1c2b74"/>
<circle cx="340.74" cy="453.61" r="5.25" fill="#d99b62"/>
<circle cx="353.35" cy="453.61" r="5.25" fill="#f5aa1e"/>
<circle cx="365.88" cy="453.61" r="4.73" fill="#6e3c9e"/>
<circle cx="378.67" cy="453.61" r="5.78" fill="#c47c78"/>
<circle cx="390.58" cy="453.61" r="1.47" fill="#1c2b74"/>
<circle cx="403.77" cy="453.61" r="4.99" fill="#8c47a6"/>
<circle cx="416.38" cy="453.61" r="4.99" fill="#41379a"/>
<circle cx="429.04" cy="453.61" r="5.25" fill="#a8659a"/>
<circle cx="441.49" cy="453.61" r="4.20" fill="#41379a"/>
<circle cx="100.44" cy="466.18" r="1.47" fill="#1c2b74"/>
<circle cx="113.05" cy="466.18" r="1.47" fill="#1c2b74"/>
<circle cx="125.67" cy="466.18" r="1.47" fill="#1c2b74"/>
<circle cx="138.28" cy="466.18" r="1.47" fill="#1c2b74"/>
<circle cx="150.90" cy="466.18" r="1.47" fill="#1c2b74"/>
<circle cx="163.51" cy="466.18" r="1.47" fill="#1c2b74"/>
<circle cx="176.13" cy="466.18" r="1.47" fill="#1c2b74"/>
<circle cx="188.74" cy="466.18" r="1.47" fill="#1c2b74"/>
<circle cx="201.36" cy="466.18" r="1.47" fill="#1c2b74"/>
<circle cx="213.97" cy="466.18" r="1.47" fill="#1c2b74"/>
<circle cx="226.59" cy="466.18" r="1.47" fill="#1c2b74"/>
<circle cx="239.20" cy="466.18" r="1.47" fill="#1c2b74"/>
<circle cx="251.82" cy="466.18" r="1.47" fill="#1c2b74"/>
<circle cx="264.43" cy="466.18" r="1.47" fill="#1c2b74"/>
<circle cx="277.05" cy="466.18" r="1.47" fill="#1c2b74"/>
<circle cx="289.66" cy="466.18" r="1.47" fill="#1c2b74"/>
<circle cx="302.28" cy="466.18" r="1.47" fill="#1c2b74"/>
<circle cx="314.89" cy="466.18" r="1.47" fill="#1c2b74"/>
<circle cx="327.51" cy="466.18" r="1.47" fill="#1c2b74"/>
<circle cx="340.12" cy="466.18" r="1.47" fill="#1c2b74"/>
<circle cx="352.74" cy="466.18" r="1.47" fill="#1c2b74"/>
<circle cx="365.35" cy="466.18" r="1.47" fill="#1c2b74"/>
<circle cx="378.62" cy="466.18" r="5.51" fill="#0c3a9b"/>
<circle cx="390.58" cy="466.18" r="1.47" fill="#1c2b74"/>
<circle cx="403.20" cy="466.18" r="1.47" fill="#1c2b74"/>
<circle cx="415.81" cy="466.18" r="1.47" fill="#1c2b74"/>
<circle cx="428.43" cy="466.18" r="1.47" fill="#1c2b74"/>
<circle cx="441.66" cy="466.18" r="5.25" fill="#f5aa1e"/>
<circle cx="100.44" cy="478.75" r="1.47" fill="#1c2b74"/>
<circle cx="113.05" cy="478.75" r="1.47" fill="#1c2b74"/>
<circle cx="125.67" cy="478.75" r="1.47" fill="#1c2b74"/>
<circle cx="138.64" cy="478.75" r="3.68" fill="#41379a"/>
<circle cx="150.90" cy="478.75" r="1.47" fill="#1c2b74"/>
<circle cx="163.83" cy="478.75" r="3.41" fill="#0c3a9b"/>
<circle cx="176.13" cy="478.75" r="1.47" fill="#1c2b74"/>
<circle cx="188.84" cy="478.75" r="2.10" fill="#0c3a9b"/>
<circle cx="201.36" cy="478.75" r="1.47" fill="#1c2b74"/>
<circle cx="213.97" cy="478.75" r="1.47" fill="#1c2b74"/>
<circle cx="226.59" cy="478.75" r="1.47" fill="#1c2b74"/>
<circle cx="239.39" cy="478.75" r="2.62" fill="#0c3a9b"/>
<circle cx="251.82" cy="478.75" r="1.47" fill="#1c2b74"/>
<circle cx="264.43" cy="478.75" r="1.47" fill="#1c2b74"/>
<circle cx="277.70" cy="478.75" r="5.51" fill="#f6c51b"/>
<circle cx="289.98" cy="478.75" r="3.41" fill="#0c3a9b"/>
<circle cx="302.28" cy="478.75" r="1.47" fill="#1c2b74"/>
<circle cx="314.89" cy="478.75" r="1.47" fill="#a8659a"/>
<circle cx="327.52" cy="478.75" r="1.58" fill="#f6c51b"/>
<circle cx="340.12" cy="478.75" r="1.47" fill="#1c2b74"/>
<circle cx="352.74" cy="478.75" r="1.47" fill="#1c2b74"/>
<circle cx="365.35" cy="478.75" r="1.47" fill="#1c2b74"/>
<circle cx="377.97" cy="478.75" r="1.47" fill="#1c2b74"/>
<circle cx="390.58" cy="478.75" r="1.47" fill="#1c2b74"/>
<circle cx="403.20" cy="478.75" r="1.47" fill="#1c2b74"/>
<circle cx="415.81" cy="478.75" r="1.47" fill="#1c2b74"/>
<circle cx="428.43" cy="478.75" r="1.47" fill="#1c2b74"/>
<circle cx="441.04" cy="478.75" r="1.47" fill="#1c2b74"/>
<circle cx="100.44" cy="491.32" r="1.47" fill="#e5171c"/>
<circle cx="113.05" cy="491.32" r="1.47" fill="#e5171c"/>
<circle cx="125.67" cy="491.32" r="1.47" fill="#e5171c"/>
<circle cx="138.28" cy="491.32" r="1.47" fill="#e5171c"/>
<circle cx="150.90" cy="491.32" r="1.47" fill="#e5171c"/>
<circle cx="163.51" cy="491.32" r="1.47" fill="#e5171c"/>
<circle cx="176.13" cy="491.32" r="1.47" fill="#e5171c"/>
<circle cx="188.74" cy="491.32" r="1.47" fill="#e5171c"/>
<circle cx="201.36" cy="491.32" r="1.47" fill="#e5171c"/>
<circle cx="214.63" cy="491.32" r="5.51" fill="#d81a1f"/>
<circle cx="226.59" cy="491.32" r="1.47" fill="#e5171c"/>
<circle cx="239.20" cy="491.32" r="1.47" fill="#1c2b74"/>
<circle cx="251.82" cy="491.32" r="1.47" fill="#1c2b74"/>
<circle cx="264.43" cy="491.32" r="1.47" fill="#e5171c"/>
<circle cx="277.05" cy="491.32" r="1.47" fill="#1c2b74"/>
<circle cx="289.66" cy="491.32" r="1.47" fill="#1c2b74"/>
<circle cx="302.30" cy="491.32" r="1.58" fill="#f2821f"/>
<circle cx="314.89" cy="491.32" r="1.47" fill="#ec5220"/>
<circle cx="327.51" cy="491.32" r="1.47" fill="#ec5220"/>
<circle cx="340.12" cy="491.32" r="1.47" fill="#6e3c9e"/>
<circle cx="352.74" cy="491.32" r="1.47" fill="#a8659a"/>
<circle cx="365.35" cy="491.32" r="1.47" fill="#f6c51b"/>
<circle cx="377.97" cy="491.32" r="1.47" fill="#1c2b74"/>
<circle cx="390.58" cy="491.32" r="1.47" fill="#1c2b74"/>
<circle cx="403.20" cy="491.32" r="1.47" fill="#1c2b74"/>
<circle cx="415.81" cy="491.32" r="1.47" fill="#1c2b74"/>
<circle cx="428.43" cy="491.32" r="1.47" fill="#1c2b74"/>
<circle cx="441.04" cy="491.32" r="1.47" fill="#1c2b74"/>
<circle cx="101.14" cy="503.89" r="5.78" fill="#e5171c"/>
<circle cx="113.75" cy="503.89" r="5.78" fill="#cc141d"/>
<circle cx="126.37" cy="503.89" r="5.78" fill="#e5171c"/>
<circle cx="138.98" cy="503.89" r="5.78" fill="#e5171c"/>
<circle cx="151.59" cy="503.89" r="5.78" fill="#e5171c"/>
<circle cx="164.21" cy="503.89" r="5.78" fill="#e5171c"/>
<circle cx="176.82" cy="503.89" r="5.78" fill="#e5171c"/>
<circle cx="188.74" cy="503.89" r="1.47" fill="#e5171c"/>
<circle cx="202.06" cy="503.89" r="5.78" fill="#e5171c"/>
<circle cx="214.67" cy="503.89" r="5.78" fill="#e5171c"/>
<circle cx="226.59" cy="503.89" r="1.47" fill="#e5171c"/>
<circle cx="239.90" cy="503.89" r="5.78" fill="#e5171c"/>
<circle cx="252.51" cy="503.89" r="5.78" fill="#e5171c"/>
<circle cx="265.13" cy="503.89" r="5.78" fill="#e5171c"/>
<circle cx="277.75" cy="503.89" r="5.78" fill="#e5171c"/>
<circle cx="290.36" cy="503.89" r="5.78" fill="#e5171c"/>
<circle cx="302.34" cy="503.89" r="1.84" fill="#f2821f"/>
<circle cx="315.55" cy="503.89" r="5.51" fill="#ec5220"/>
<circle cx="328.16" cy="503.89" r="5.51" fill="#ec5220"/>
<circle cx="340.12" cy="503.89" r="1.47" fill="#d99b62"/>
<circle cx="352.74" cy="503.89" r="1.47" fill="#d99b62"/>
<circle cx="365.35" cy="503.89" r="1.47" fill="#f6c51b"/>
<circle cx="377.97" cy="503.89" r="1.47" fill="#6e3c9e"/>
<circle cx="390.58" cy="503.89" r="1.47" fill="#6e3c9e"/>
<circle cx="403.20" cy="503.89" r="1.47" fill="#6e3c9e"/>
<circle cx="415.81" cy="503.89" r="1.47" fill="#6e3c9e"/>
<circle cx="428.43" cy="503.89" r="1.47" fill="#a8659a"/>
<circle cx="441.04" cy="503.89" r="1.47" fill="#41379a"/>
<circle cx="100.44" cy="516.46" r="1.47" fill="#1c2b74"/>
<circle cx="113.05" cy="516.46" r="1.47" fill="#e5171c"/>
<circle cx="125.67" cy="516.46" r="1.47" fill="#6e3c9e"/>
<circle cx="138.28" cy="516.46" r="1.47" fill="#1c2b74"/>
<circle cx="150.90" cy="516.46" r="1.47" fill="#a8659a"/>
<circle cx="163.51" cy="516.46" r="1.47" fill="#1c2b74"/>
<circle cx="176.13" cy="516.46" r="1.47" fill="#1c2b74"/>
<circle cx="188.74" cy="516.46" r="1.47" fill="#1c2b74"/>
<circle cx="201.36" cy="516.46" r="1.47" fill="#1c2b74"/>
<circle cx="213.97" cy="516.46" r="1.47" fill="#1c2b74"/>
<circle cx="226.59" cy="516.46" r="1.47" fill="#1c2b74"/>
<circle cx="239.20" cy="516.46" r="1.47" fill="#1c2b74"/>
<circle cx="251.82" cy="516.46" r="1.47" fill="#1c2b74"/>
<circle cx="264.43" cy="516.46" r="1.47" fill="#1c2b74"/>
<circle cx="277.05" cy="516.46" r="1.47" fill="#1c2b74"/>
<circle cx="289.66" cy="516.46" r="1.47" fill="#1c2b74"/>
<circle cx="302.28" cy="516.46" r="1.47" fill="#1c2b74"/>
<circle cx="314.89" cy="516.46" r="1.47" fill="#1c2b74"/>
<circle cx="327.51" cy="516.46" r="1.47" fill="#1c2b74"/>
<circle cx="340.12" cy="516.46" r="1.47" fill="#1c2b74"/>
<circle cx="352.74" cy="516.46" r="1.47" fill="#6e3c9e"/>
<circle cx="365.35" cy="516.46" r="1.47" fill="#1c2b74"/>
<circle cx="377.97" cy="516.46" r="1.47" fill="#a8659a"/>
<circle cx="390.58" cy="516.46" r="1.47" fill="#1c2b74"/>
<circle cx="403.20" cy="516.46" r="1.47" fill="#1c2b74"/>
<circle cx="415.81" cy="516.46" r="1.47" fill="#1c2b74"/>
<circle cx="428.43" cy="516.46" r="1.47" fill="#1c2b74"/>
<circle cx="441.70" cy="516.46" r="5.51" fill="#e5171c"/>
<circle cx="100.44" cy="529.03" r="1.47" fill="#1c2b74"/>
<circle cx="113.05" cy="529.03" r="1.47" fill="#1c2b74"/>
<circle cx="125.67" cy="529.03" r="1.47" fill="#1c2b74"/>
<circle cx="138.28" cy="529.03" r="1.47" fill="#1c2b74"/>
<circle cx="150.90" cy="529.03" r="1.47" fill="#1c2b74"/>
<circle cx="163.51" cy="529.03" r="1.47" fill="#1c2b74"/>
<circle cx="176.13" cy="529.03" r="1.47" fill="#1c2b74"/>
<circle cx="188.74" cy="529.03" r="1.47" fill="#1c2b74"/>
<circle cx="201.97" cy="529.03" r="5.25" fill="#8c47a6"/>
<circle cx="213.97" cy="529.03" r="1.47" fill="#1c2b74"/>
<circle cx="226.59" cy="529.03" r="1.47" fill="#1c2b74"/>
<circle cx="239.20" cy="529.03" r="1.47" fill="#1c2b74"/>
<circle cx="252.43" cy="529.03" r="5.25" fill="#5a3aa0"/>
<circle cx="264.43" cy="529.03" r="1.47" fill="#1c2b74"/>
<circle cx="277.05" cy="529.03" r="1.47" fill="#1c2b74"/>
<circle cx="289.66" cy="529.03" r="1.47" fill="#1c2b74"/>
<circle cx="302.28" cy="529.03" r="1.47" fill="#6e3c9e"/>
<circle cx="314.89" cy="529.03" r="1.47" fill="#1c2b74"/>
<circle cx="327.51" cy="529.03" r="1.47" fill="#1c2b74"/>
<circle cx="340.12" cy="529.03" r="1.47" fill="#1c2b74"/>
<circle cx="352.74" cy="529.03" r="1.47" fill="#1c2b74"/>
<circle cx="365.35" cy="529.03" r="1.47" fill="#1c2b74"/>
<circle cx="377.97" cy="529.03" r="1.47" fill="#1c2b74"/>
<circle cx="390.58" cy="529.03" r="1.47" fill="#1c2b74"/>
<circle cx="403.20" cy="529.03" r="1.47" fill="#1c2b74"/>
<circle cx="415.81" cy="529.03" r="1.47" fill="#1c2b74"/>
<circle cx="428.43" cy="529.03" r="1.47" fill="#1c2b74"/>
<circle cx="441.04" cy="529.03" r="1.47" fill="#1c2b74"/>
<circle cx="101.09" cy="541.60" r="5.51" fill="#ef7419"/>
<circle cx="113.05" cy="541.60" r="1.47" fill="#ef7419"/>
<circle cx="125.67" cy="541.60" r="1.47" fill="#ef7419"/>
<circle cx="138.28" cy="541.60" r="1.47" fill="#ef7419"/>
<circle cx="150.90" cy="541.60" r="1.47" fill="#ef7419"/>
<circle cx="163.51" cy="541.60" r="1.47" fill="#ef7419"/>
<circle cx="176.13" cy="541.60" r="1.47" fill="#ef7419"/>
<circle cx="188.74" cy="541.60" r="1.47" fill="#ef7419"/>
<circle cx="201.36" cy="541.60" r="1.47" fill="#ef7419"/>
<circle cx="213.97" cy="541.60" r="1.47" fill="#ef7419"/>
<circle cx="226.59" cy="541.60" r="1.47" fill="#ef7419"/>
<circle cx="239.20" cy="541.60" r="1.47" fill="#ef7419"/>
<circle cx="251.82" cy="541.60" r="1.47" fill="#ef7419"/>
<circle cx="265.09" cy="541.60" r="5.51" fill="#ef7419"/>
<circle cx="277.05" cy="541.60" r="1.47" fill="#ef7419"/>
<circle cx="289.66" cy="541.60" r="1.47" fill="#1c2b74"/>
<circle cx="302.28" cy="541.60" r="1.47" fill="#1c2b74"/>
<circle cx="314.89" cy="541.60" r="1.47" fill="#1c2b74"/>
<circle cx="327.51" cy="541.60" r="1.47" fill="#1c2b74"/>
<circle cx="340.12" cy="541.60" r="1.47" fill="#1c2b74"/>
<circle cx="352.74" cy="541.60" r="1.47" fill="#1c2b74"/>
<circle cx="365.35" cy="541.60" r="1.47" fill="#1c2b74"/>
<circle cx="377.97" cy="541.60" r="1.47" fill="#1c2b74"/>
<circle cx="390.58" cy="541.60" r="1.47" fill="#1c2b74"/>
<circle cx="403.20" cy="541.60" r="1.47" fill="#1c2b74"/>
<circle cx="415.81" cy="541.60" r="1.47" fill="#1c2b74"/>
<circle cx="428.43" cy="541.60" r="1.47" fill="#1c2b74"/>
<circle cx="441.04" cy="541.60" r="1.47" fill="#1c2b74"/>
<text transform="translate(84.4,293.40) scale(1,1.06)" font-size="8.9" text-anchor="end"><tspan fill="#d0202e" stroke="#d0202e">CXCL9</tspan> <tspan fill="#284a9a" stroke="#284a9a">DPP4</tspan></text>
<text transform="translate(84.4,305.97) scale(1,1.06)" font-size="8.9" text-anchor="end"><tspan fill="#d0202e" stroke="#d0202e">CXCL8</tspan> <tspan fill="#284a9a" stroke="#284a9a">ACKR1</tspan></text>
<text transform="translate(84.4,318.54) scale(1,1.06)" font-size="8.9" text-anchor="end"><tspan fill="#d0202e" stroke="#d0202e">CXCL2</tspan> <tspan fill="#284a9a" stroke="#284a9a">DPP4</tspan></text>
<text transform="translate(84.4,331.11) scale(1,1.06)" font-size="8.9" text-anchor="end"><tspan fill="#d0202e" stroke="#d0202e">CXCL16</tspan> <tspan fill="#284a9a" stroke="#284a9a">CXCR6</tspan></text>
<text transform="translate(84.4,343.68) scale(1,1.06)" font-size="8.9" text-anchor="end"><tspan fill="#d0202e" stroke="#d0202e">CXCL12</tspan> <tspan fill="#284a9a" stroke="#284a9a">DPP4</tspan></text>
<text transform="translate(84.4,356.25) scale(1,1.06)" font-size="8.9" text-anchor="end"><tspan fill="#d0202e" stroke="#d0202e">CXCL12</tspan> <tspan fill="#284a9a" stroke="#284a9a">CXCR4</tspan></text>
<text transform="translate(84.4,368.82) scale(1,1.06)" font-size="8.9" text-anchor="end"><tspan fill="#d0202e" stroke="#d0202e">CXCL12</tspan> <tspan fill="#284a9a" stroke="#284a9a">CXCR3</tspan></text>
<text transform="translate(84.4,381.39) scale(1,1.06)" font-size="8.9" text-anchor="end"><tspan fill="#d0202e" stroke="#d0202e">CXCL12</tspan> <tspan fill="#284a9a" stroke="#284a9a">ACKR3</tspan></text>
<text transform="translate(84.4,393.96) scale(1,1.06)" font-size="8.9" text-anchor="end"><tspan fill="#d0202e" stroke="#d0202e">CXCL10</tspan> <tspan fill="#284a9a" stroke="#284a9a">DPP4</tspan></text>
<text transform="translate(84.4,406.53) scale(1,1.06)" font-size="8.9" text-anchor="end"><tspan fill="#d0202e" stroke="#d0202e">CXCL1</tspan> <tspan fill="#284a9a" stroke="#284a9a">ACKR1</tspan></text>
<text transform="translate(84.4,419.10) scale(1,1.06)" font-size="8.9" text-anchor="end"><tspan fill="#d0202e" stroke="#d0202e">CCL5</tspan> <tspan fill="#284a9a" stroke="#284a9a">CCR5</tspan></text>
<text transform="translate(84.4,431.67) scale(1,1.06)" font-size="8.9" text-anchor="end"><tspan fill="#d0202e" stroke="#d0202e">CCL5</tspan> <tspan fill="#284a9a" stroke="#284a9a">CCR1</tspan></text>
<text transform="translate(84.4,444.24) scale(1,1.06)" font-size="8.9" text-anchor="end"><tspan fill="#d0202e" stroke="#d0202e">CCL5</tspan> <tspan fill="#284a9a" stroke="#284a9a">ACKR1</tspan></text>
<text transform="translate(84.4,456.81) scale(1,1.06)" font-size="8.9" text-anchor="end"><tspan fill="#d0202e" stroke="#d0202e">CCL4L2</tspan> <tspan fill="#284a9a" stroke="#284a9a">PGRMC2</tspan></text>
<text transform="translate(84.4,469.38) scale(1,1.06)" font-size="8.9" text-anchor="end"><tspan fill="#d0202e" stroke="#d0202e">CCL22</tspan> <tspan fill="#284a9a" stroke="#284a9a">DPP4</tspan></text>
<text transform="translate(84.4,481.95) scale(1,1.06)" font-size="8.9" text-anchor="end"><tspan fill="#d0202e" stroke="#d0202e">CCL21</tspan> <tspan fill="#284a9a" stroke="#284a9a">CCR7</tspan></text>
<text transform="translate(84.4,494.52) scale(1,1.06)" font-size="8.9" text-anchor="end"><tspan fill="#d0202e" stroke="#d0202e">CCL2</tspan> <tspan fill="#284a9a" stroke="#284a9a">CCR10</tspan></text>
<text transform="translate(84.4,507.09) scale(1,1.06)" font-size="8.9" text-anchor="end"><tspan fill="#d0202e" stroke="#d0202e">CCL2</tspan> <tspan fill="#284a9a" stroke="#284a9a">ACKR1</tspan></text>
<text transform="translate(84.4,519.66) scale(1,1.06)" font-size="8.9" text-anchor="end"><tspan fill="#d0202e" stroke="#d0202e">CCL17</tspan> <tspan fill="#284a9a" stroke="#284a9a">ACKR1</tspan></text>
<text transform="translate(84.4,532.23) scale(1,1.06)" font-size="8.9" text-anchor="end"><tspan fill="#d0202e" stroke="#d0202e">CCL13</tspan> <tspan fill="#284a9a" stroke="#284a9a">CCR1</tspan></text>
<text transform="translate(84.4,544.80) scale(1,1.06)" font-size="8.9" text-anchor="end"><tspan fill="#d0202e" stroke="#d0202e">CCL11</tspan> <tspan fill="#284a9a" stroke="#284a9a">DPP4</tspan></text>
<text transform="translate(103.20,557) rotate(-90) scale(1,1.06)" font-size="10.0" text-anchor="end" fill="#284a9a" stroke="#284a9a">iCAF</text>
<text transform="translate(115.81,557) rotate(-90) scale(1,1.06)" font-size="10.0" text-anchor="end" fill="#284a9a" stroke="#284a9a">Endothelial</text>
<text transform="translate(128.43,557) rotate(-90) scale(1,1.06)" font-size="10.0" text-anchor="end" fill="#284a9a" stroke="#284a9a">CD8+ T cell</text>
<text transform="translate(141.05,557) rotate(-90) scale(1,1.06)" font-size="10.0" text-anchor="end" fill="#284a9a" stroke="#284a9a">Naive T cell</text>
<text transform="translate(153.66,557) rotate(-90) scale(1,1.06)" font-size="10.0" text-anchor="end" fill="#284a9a" stroke="#284a9a">Mast cell</text>
<text transform="translate(166.28,557) rotate(-90) scale(1,1.06)" font-size="10.0" text-anchor="end" fill="#284a9a" stroke="#284a9a">CD1C+ DC</text>
<text transform="translate(178.89,557) rotate(-90) scale(1,1.06)" font-size="10.0" text-anchor="end" fill="#284a9a" stroke="#284a9a">NKT cell</text>
<text transform="translate(191.50,557) rotate(-90) scale(1,1.06)" font-size="10.0" text-anchor="end" fill="#284a9a" stroke="#284a9a">CD4+ T cell</text>
<text transform="translate(204.12,557) rotate(-90) scale(1,1.06)" font-size="10.0" text-anchor="end" fill="#284a9a" stroke="#284a9a">TAM</text>
<text transform="translate(216.74,557) rotate(-90) scale(1,1.06)" font-size="10.0" text-anchor="end" fill="#284a9a" stroke="#284a9a">mCAF</text>
<text transform="translate(229.35,557) rotate(-90) scale(1,1.06)" font-size="10.0" text-anchor="end" fill="#284a9a" stroke="#284a9a">Epithelial</text>
<text transform="translate(241.97,557) rotate(-90) scale(1,1.06)" font-size="10.0" text-anchor="end" fill="#284a9a" stroke="#284a9a">Treg</text>
<text transform="translate(254.58,557) rotate(-90) scale(1,1.06)" font-size="10.0" text-anchor="end" fill="#284a9a" stroke="#284a9a">Monocyte</text>
<text transform="translate(267.19,557) rotate(-90) scale(1,1.06)" font-size="10.0" text-anchor="end" fill="#284a9a" stroke="#284a9a">CLEC9A+ DC</text>
<text transform="translate(279.81,557) rotate(-90) scale(1,1.06)" font-size="10.0" text-anchor="end" fill="#284a9a" stroke="#284a9a">LAMP3+ DC</text>
<text transform="translate(292.43,557) rotate(-90) scale(1,1.06)" font-size="10.0" text-anchor="end" fill="#284a9a" stroke="#284a9a">B cell</text>
<text transform="translate(305.24,569.2) rotate(-90) scale(1,1.06)" font-size="10.0" text-anchor="end" fill="#d0202e" stroke="#d0202e">TAM</text>
<text transform="translate(317.86,569.2) rotate(-90) scale(1,1.06)" font-size="10.0" text-anchor="end" fill="#d0202e" stroke="#d0202e">Endothelial</text>
<text transform="translate(330.47,569.2) rotate(-90) scale(1,1.06)" font-size="10.0" text-anchor="end" fill="#d0202e" stroke="#d0202e">mCAF</text>
<text transform="translate(343.08,569.2) rotate(-90) scale(1,1.06)" font-size="10.0" text-anchor="end" fill="#d0202e" stroke="#d0202e">CD8+ T cell</text>
<text transform="translate(355.70,569.2) rotate(-90) scale(1,1.06)" font-size="10.0" text-anchor="end" fill="#d0202e" stroke="#d0202e">Monocyte</text>
<text transform="translate(368.31,569.2) rotate(-90) scale(1,1.06)" font-size="10.0" text-anchor="end" fill="#d0202e" stroke="#d0202e">Mast cell</text>
<text transform="translate(380.93,569.2) rotate(-90) scale(1,1.06)" font-size="10.0" text-anchor="end" fill="#d0202e" stroke="#d0202e">CD1C DC</text>
<text transform="translate(393.54,569.2) rotate(-90) scale(1,1.06)" font-size="10.0" text-anchor="end" fill="#d0202e" stroke="#d0202e">Epithelial</text>
<text transform="translate(406.16,569.2) rotate(-90) scale(1,1.06)" font-size="10.0" text-anchor="end" fill="#d0202e" stroke="#d0202e">CLEC9A DC</text>
<text transform="translate(418.77,569.2) rotate(-90) scale(1,1.06)" font-size="10.0" text-anchor="end" fill="#d0202e" stroke="#d0202e">CD4 T cell</text>
<text transform="translate(431.39,569.2) rotate(-90) scale(1,1.06)" font-size="10.0" text-anchor="end" fill="#d0202e" stroke="#d0202e">NKT cell</text>
<text transform="translate(444.00,569.2) rotate(-90) scale(1,1.06)" font-size="10.0" text-anchor="end" fill="#d0202e" stroke="#d0202e">LAMP3+DC</text>
<line x1="96.8" y1="620.8" x2="291.8" y2="620.8" stroke="#606060" stroke-width="1.5"/>
<text transform="translate(195.4,633.3) scale(1,1.06)" font-size="10.0" text-anchor="middle" fill="#d0202e" stroke="#d0202e">iCAF</text>
<line x1="299.2" y1="566.6" x2="442.8" y2="566.6" stroke="#111" stroke-width="1.2"/>
<text transform="translate(374.4,563.6) scale(1,1.06)" font-size="10.0" text-anchor="middle" fill="#284a9a" stroke="#284a9a">iCAF</text>
<text transform="translate(453.4,347.4) scale(1,1.06)" font-size="7.9" fill="#111" stroke="#111">−log10(<tspan font-style="italic">P</tspan> value)</text>
<circle cx="468.2" cy="356.6" r="1.4" fill="#000"/>
<text transform="translate(477.4,359.6) scale(1,1.06)" font-size="8.4" fill="#111" stroke="#111">0</text>
<circle cx="468.2" cy="369.0" r="3.65" fill="#000"/>
<text transform="translate(477.4,372.0) scale(1,1.06)" font-size="8.4" fill="#111" stroke="#111">1</text>
<circle cx="468.2" cy="381.6" r="4.8" fill="#000"/>
<text transform="translate(477.4,384.6) scale(1,1.06)" font-size="8.4" fill="#111" stroke="#111">2</text>
<circle cx="468.2" cy="393.8" r="5.55" fill="#000"/>
<text transform="translate(477.4,396.8) scale(1,1.06)" font-size="8.4" fill="#111" stroke="#111">3</text>
<defs><linearGradient id="gb" x1="0" y1="0" x2="0" y2="1"><stop offset="0.000" stop-color="#c4141f"/><stop offset="0.100" stop-color="#c8151f"/><stop offset="0.113" stop-color="#e3141b"/><stop offset="0.284" stop-color="#e3141b"/><stop offset="0.325" stop-color="#ee4a1e"/><stop offset="0.372" stop-color="#f5861e"/><stop offset="0.427" stop-color="#f5aa1d"/><stop offset="0.482" stop-color="#f5c41b"/><stop offset="0.550" stop-color="#d89a60"/><stop offset="0.604" stop-color="#a06a90"/><stop offset="0.645" stop-color="#6a3a9e"/><stop offset="0.693" stop-color="#3a3aa0"/><stop offset="0.741" stop-color="#0d3a9a"/><stop offset="0.877" stop-color="#0d3a9a"/><stop offset="0.932" stop-color="#1c2c6c"/><stop offset="1.000" stop-color="#1c2c6c"/></linearGradient></defs>
<rect x="460.3" y="429.1" width="12.6" height="62.7" fill="url(#gb)"/>
<line x1="460.3" y1="436.2" x2="462.6" y2="436.2" stroke="#fff" stroke-opacity="0.6" stroke-width="0.8"/>
<line x1="470.6" y1="436.2" x2="472.9" y2="436.2" stroke="#fff" stroke-opacity="0.6" stroke-width="0.8"/>
<text transform="translate(476.8,439.3) scale(1,1.06)" font-size="8.6" fill="#111" stroke="#111">4</text>
<line x1="460.3" y1="453.4" x2="462.6" y2="453.4" stroke="#fff" stroke-opacity="0.6" stroke-width="0.8"/>
<line x1="470.6" y1="453.4" x2="472.9" y2="453.4" stroke="#fff" stroke-opacity="0.6" stroke-width="0.8"/>
<text transform="translate(476.8,456.5) scale(1,1.06)" font-size="8.6" fill="#111" stroke="#111">2</text>
<line x1="460.3" y1="470.5" x2="462.6" y2="470.5" stroke="#fff" stroke-opacity="0.6" stroke-width="0.8"/>
<line x1="470.6" y1="470.5" x2="472.9" y2="470.5" stroke="#fff" stroke-opacity="0.6" stroke-width="0.8"/>
<text transform="translate(476.8,473.6) scale(1,1.06)" font-size="8.6" fill="#111" stroke="#111">0</text>
<line x1="460.3" y1="487.5" x2="462.6" y2="487.5" stroke="#fff" stroke-opacity="0.6" stroke-width="0.8"/>
<line x1="470.6" y1="487.5" x2="472.9" y2="487.5" stroke="#fff" stroke-opacity="0.6" stroke-width="0.8"/>
<text transform="translate(476.8,490.6) scale(1,1.06)" font-size="8.6" fill="#111" stroke="#111">−2</text>
<text transform="translate(496.2,511.8) rotate(-90) scale(1,1.06)" font-size="7.97" fill="#111" stroke="#111">log2(mean(ligand, receptor))</text>
<rect x="608.40" y="12.00" width="286.15" height="502.60" fill="none" stroke="#7e7e7e" stroke-width="1.2"/>
<line x1="616.30" y1="11.00" x2="616.30" y2="514.60" stroke="#eeeeee" stroke-width="1.1"/>
<line x1="630.55" y1="11.00" x2="630.55" y2="514.60" stroke="#eeeeee" stroke-width="1.1"/>
<line x1="644.80" y1="11.00" x2="644.80" y2="514.60" stroke="#eeeeee" stroke-width="1.1"/>
<line x1="659.05" y1="11.00" x2="659.05" y2="514.60" stroke="#eeeeee" stroke-width="1.1"/>
<line x1="673.30" y1="11.00" x2="673.30" y2="514.60" stroke="#eeeeee" stroke-width="1.1"/>
<line x1="687.55" y1="11.00" x2="687.55" y2="514.60" stroke="#eeeeee" stroke-width="1.1"/>
<line x1="701.80" y1="11.00" x2="701.80" y2="514.60" stroke="#eeeeee" stroke-width="1.1"/>
<line x1="716.05" y1="11.00" x2="716.05" y2="514.60" stroke="#eeeeee" stroke-width="1.1"/>
<line x1="730.30" y1="11.00" x2="730.30" y2="514.60" stroke="#eeeeee" stroke-width="1.1"/>
<line x1="744.55" y1="11.00" x2="744.55" y2="514.60" stroke="#eeeeee" stroke-width="1.1"/>
<line x1="758.80" y1="11.00" x2="758.80" y2="514.60" stroke="#eeeeee" stroke-width="1.1"/>
<line x1="773.05" y1="11.00" x2="773.05" y2="514.60" stroke="#eeeeee" stroke-width="1.1"/>
<line x1="787.30" y1="11.00" x2="787.30" y2="514.60" stroke="#eeeeee" stroke-width="1.1"/>
<line x1="801.55" y1="11.00" x2="801.55" y2="514.60" stroke="#eeeeee" stroke-width="1.1"/>
<line x1="815.80" y1="11.00" x2="815.80" y2="514.60" stroke="#eeeeee" stroke-width="1.1"/>
<line x1="830.05" y1="11.00" x2="830.05" y2="514.60" stroke="#eeeeee" stroke-width="1.1"/>
<line x1="844.30" y1="11.00" x2="844.30" y2="514.60" stroke="#eeeeee" stroke-width="1.1"/>
<line x1="858.55" y1="11.00" x2="858.55" y2="514.60" stroke="#eeeeee" stroke-width="1.1"/>
<line x1="872.80" y1="11.00" x2="872.80" y2="514.60" stroke="#eeeeee" stroke-width="1.1"/>
<line x1="887.05" y1="11.00" x2="887.05" y2="514.60" stroke="#eeeeee" stroke-width="1.1"/>
<line x1="608.40" y1="20.90" x2="895.55" y2="20.90" stroke="#eeeeee" stroke-width="1.1"/>
<line x1="608.40" y1="36.55" x2="895.55" y2="36.55" stroke="#eeeeee" stroke-width="1.1"/>
<line x1="608.40" y1="52.19" x2="895.55" y2="52.19" stroke="#eeeeee" stroke-width="1.1"/>
<line x1="608.40" y1="67.84" x2="895.55" y2="67.84" stroke="#eeeeee" stroke-width="1.1"/>
<line x1="608.40" y1="83.48" x2="895.55" y2="83.48" stroke="#eeeeee" stroke-width="1.1"/>
<line x1="608.40" y1="99.12" x2="895.55" y2="99.12" stroke="#eeeeee" stroke-width="1.1"/>
<line x1="608.40" y1="114.77" x2="895.55" y2="114.77" stroke="#eeeeee" stroke-width="1.1"/>
<line x1="608.40" y1="130.41" x2="895.55" y2="130.41" stroke="#eeeeee" stroke-width="1.1"/>
<line x1="608.40" y1="146.06" x2="895.55" y2="146.06" stroke="#eeeeee" stroke-width="1.1"/>
<line x1="608.40" y1="161.71" x2="895.55" y2="161.71" stroke="#eeeeee" stroke-width="1.1"/>
<line x1="608.40" y1="177.35" x2="895.55" y2="177.35" stroke="#eeeeee" stroke-width="1.1"/>
<line x1="608.40" y1="193.00" x2="895.55" y2="193.00" stroke="#eeeeee" stroke-width="1.1"/>
<line x1="608.40" y1="208.64" x2="895.55" y2="208.64" stroke="#eeeeee" stroke-width="1.1"/>
<line x1="608.40" y1="224.28" x2="895.55" y2="224.28" stroke="#eeeeee" stroke-width="1.1"/>
<line x1="608.40" y1="239.93" x2="895.55" y2="239.93" stroke="#eeeeee" stroke-width="1.1"/>
<line x1="608.40" y1="255.57" x2="895.55" y2="255.57" stroke="#eeeeee" stroke-width="1.1"/>
<line x1="608.40" y1="271.22" x2="895.55" y2="271.22" stroke="#eeeeee" stroke-width="1.1"/>
<line x1="608.40" y1="286.86" x2="895.55" y2="286.86" stroke="#eeeeee" stroke-width="1.1"/>
<line x1="608.40" y1="302.51" x2="895.55" y2="302.51" stroke="#eeeeee" stroke-width="1.1"/>
<line x1="608.40" y1="318.15" x2="895.55" y2="318.15" stroke="#eeeeee" stroke-width="1.1"/>
<line x1="608.40" y1="333.80" x2="895.55" y2="333.80" stroke="#eeeeee" stroke-width="1.1"/>
<line x1="608.40" y1="349.44" x2="895.55" y2="349.44" stroke="#eeeeee" stroke-width="1.1"/>
<line x1="608.40" y1="365.09" x2="895.55" y2="365.09" stroke="#eeeeee" stroke-width="1.1"/>
<line x1="608.40" y1="380.73" x2="895.55" y2="380.73" stroke="#eeeeee" stroke-width="1.1"/>
<line x1="608.40" y1="396.38" x2="895.55" y2="396.38" stroke="#eeeeee" stroke-width="1.1"/>
<line x1="608.40" y1="412.02" x2="895.55" y2="412.02" stroke="#eeeeee" stroke-width="1.1"/>
<line x1="608.40" y1="427.67" x2="895.55" y2="427.67" stroke="#eeeeee" stroke-width="1.1"/>
<line x1="608.40" y1="443.31" x2="895.55" y2="443.31" stroke="#eeeeee" stroke-width="1.1"/>
<line x1="608.40" y1="458.96" x2="895.55" y2="458.96" stroke="#eeeeee" stroke-width="1.1"/>
<line x1="608.40" y1="474.60" x2="895.55" y2="474.60" stroke="#eeeeee" stroke-width="1.1"/>
<line x1="608.40" y1="490.25" x2="895.55" y2="490.25" stroke="#eeeeee" stroke-width="1.1"/>
<line x1="608.40" y1="505.89" x2="895.55" y2="505.89" stroke="#eeeeee" stroke-width="1.1"/>
<path d="M608.40,11.40 L608.40,514.60 L895.15,514.60" fill="none" stroke="#444444" stroke-width="1.2"/>
<line x1="606.00" y1="20.90" x2="608.40" y2="20.90" stroke="#3c3c3c" stroke-width="1"/>
<line x1="606.00" y1="36.55" x2="608.40" y2="36.55" stroke="#3c3c3c" stroke-width="1"/>
<line x1="606.00" y1="52.19" x2="608.40" y2="52.19" stroke="#3c3c3c" stroke-width="1"/>
<line x1="606.00" y1="67.84" x2="608.40" y2="67.84" stroke="#3c3c3c" stroke-width="1"/>
<line x1="606.00" y1="83.48" x2="608.40" y2="83.48" stroke="#3c3c3c" stroke-width="1"/>
<line x1="606.00" y1="99.12" x2="608.40" y2="99.12" stroke="#3c3c3c" stroke-width="1"/>
<line x1="606.00" y1="114.77" x2="608.40" y2="114.77" stroke="#3c3c3c" stroke-width="1"/>
<line x1="606.00" y1="130.41" x2="608.40" y2="130.41" stroke="#3c3c3c" stroke-width="1"/>
<line x1="606.00" y1="146.06" x2="608.40" y2="146.06" stroke="#3c3c3c" stroke-width="1"/>
<line x1="606.00" y1="161.71" x2="608.40" y2="161.71" stroke="#3c3c3c" stroke-width="1"/>
<line x1="606.00" y1="177.35" x2="608.40" y2="177.35" stroke="#3c3c3c" stroke-width="1"/>
<line x1="606.00" y1="193.00" x2="608.40" y2="193.00" stroke="#3c3c3c" stroke-width="1"/>
<line x1="606.00" y1="208.64" x2="608.40" y2="208.64" stroke="#3c3c3c" stroke-width="1"/>
<line x1="606.00" y1="224.28" x2="608.40" y2="224.28" stroke="#3c3c3c" stroke-width="1"/>
<line x1="606.00" y1="239.93" x2="608.40" y2="239.93" stroke="#3c3c3c" stroke-width="1"/>
<line x1="606.00" y1="255.57" x2="608.40" y2="255.57" stroke="#3c3c3c" stroke-width="1"/>
<line x1="606.00" y1="271.22" x2="608.40" y2="271.22" stroke="#3c3c3c" stroke-width="1"/>
<line x1="606.00" y1="286.86" x2="608.40" y2="286.86" stroke="#3c3c3c" stroke-width="1"/>
<line x1="606.00" y1="302.51" x2="608.40" y2="302.51" stroke="#3c3c3c" stroke-width="1"/>
<line x1="606.00" y1="318.15" x2="608.40" y2="318.15" stroke="#3c3c3c" stroke-width="1"/>
<line x1="606.00" y1="333.80" x2="608.40" y2="333.80" stroke="#3c3c3c" stroke-width="1"/>
<line x1="606.00" y1="349.44" x2="608.40" y2="349.44" stroke="#3c3c3c" stroke-width="1"/>
<line x1="606.00" y1="365.09" x2="608.40" y2="365.09" stroke="#3c3c3c" stroke-width="1"/>
<line x1="606.00" y1="380.73" x2="608.40" y2="380.73" stroke="#3c3c3c" stroke-width="1"/>
<line x1="606.00" y1="396.38" x2="608.40" y2="396.38" stroke="#3c3c3c" stroke-width="1"/>
<line x1="606.00" y1="412.02" x2="608.40" y2="412.02" stroke="#3c3c3c" stroke-width="1"/>
<line x1="606.00" y1="427.67" x2="608.40" y2="427.67" stroke="#3c3c3c" stroke-width="1"/>
<line x1="606.00" y1="443.31" x2="608.40" y2="443.31" stroke="#3c3c3c" stroke-width="1"/>
<line x1="606.00" y1="458.96" x2="608.40" y2="458.96" stroke="#3c3c3c" stroke-width="1"/>
<line x1="606.00" y1="474.60" x2="608.40" y2="474.60" stroke="#3c3c3c" stroke-width="1"/>
<line x1="606.00" y1="490.25" x2="608.40" y2="490.25" stroke="#3c3c3c" stroke-width="1"/>
<line x1="606.00" y1="505.89" x2="608.40" y2="505.89" stroke="#3c3c3c" stroke-width="1"/>
<line x1="616.30" y1="514.60" x2="616.30" y2="517.00" stroke="#3c3c3c" stroke-width="1"/>
<line x1="630.55" y1="514.60" x2="630.55" y2="517.00" stroke="#3c3c3c" stroke-width="1"/>
<line x1="644.80" y1="514.60" x2="644.80" y2="517.00" stroke="#3c3c3c" stroke-width="1"/>
<line x1="659.05" y1="514.60" x2="659.05" y2="517.00" stroke="#3c3c3c" stroke-width="1"/>
<line x1="673.30" y1="514.60" x2="673.30" y2="517.00" stroke="#3c3c3c" stroke-width="1"/>
<line x1="687.55" y1="514.60" x2="687.55" y2="517.00" stroke="#3c3c3c" stroke-width="1"/>
<line x1="701.80" y1="514.60" x2="701.80" y2="517.00" stroke="#3c3c3c" stroke-width="1"/>
<line x1="716.05" y1="514.60" x2="716.05" y2="517.00" stroke="#3c3c3c" stroke-width="1"/>
<line x1="730.30" y1="514.60" x2="730.30" y2="517.00" stroke="#3c3c3c" stroke-width="1"/>
<line x1="744.55" y1="514.60" x2="744.55" y2="517.00" stroke="#3c3c3c" stroke-width="1"/>
<line x1="758.80" y1="514.60" x2="758.80" y2="517.00" stroke="#3c3c3c" stroke-width="1"/>
<line x1="773.05" y1="514.60" x2="773.05" y2="517.00" stroke="#3c3c3c" stroke-width="1"/>
<line x1="787.30" y1="514.60" x2="787.30" y2="517.00" stroke="#3c3c3c" stroke-width="1"/>
<line x1="801.55" y1="514.60" x2="801.55" y2="517.00" stroke="#3c3c3c" stroke-width="1"/>
<line x1="815.80" y1="514.60" x2="815.80" y2="517.00" stroke="#3c3c3c" stroke-width="1"/>
<line x1="830.05" y1="514.60" x2="830.05" y2="517.00" stroke="#3c3c3c" stroke-width="1"/>
<line x1="844.30" y1="514.60" x2="844.30" y2="517.00" stroke="#3c3c3c" stroke-width="1"/>
<line x1="858.55" y1="514.60" x2="858.55" y2="517.00" stroke="#3c3c3c" stroke-width="1"/>
<line x1="872.80" y1="514.60" x2="872.80" y2="517.00" stroke="#3c3c3c" stroke-width="1"/>
<line x1="887.05" y1="514.60" x2="887.05" y2="517.00" stroke="#3c3c3c" stroke-width="1"/>
<circle cx="617.92" cy="20.90" r="6.50" fill="#f6c51b"/>
<circle cx="632.17" cy="20.90" r="6.50" fill="#b06a86"/>
<circle cx="646.42" cy="20.90" r="6.50" fill="#b06a86"/>
<circle cx="659.49" cy="20.90" r="1.77" fill="#6e3c9e"/>
<circle cx="673.74" cy="20.90" r="1.77" fill="#6e3c9e"/>
<circle cx="689.17" cy="20.90" r="6.50" fill="#8c47a6"/>
<circle cx="703.36" cy="20.90" r="6.24" fill="#d08a6a"/>
<circle cx="716.49" cy="20.90" r="1.77" fill="#6e3c9e"/>
<circle cx="730.74" cy="20.90" r="1.77" fill="#6e3c9e"/>
<circle cx="744.99" cy="20.90" r="1.77" fill="#6e3c9e"/>
<circle cx="760.29" cy="20.90" r="5.98" fill="#41379a"/>
<circle cx="773.96" cy="20.90" r="3.64" fill="#0c3a9b"/>
<circle cx="788.92" cy="20.90" r="6.50" fill="#41379a"/>
<circle cx="803.17" cy="20.90" r="6.50" fill="#41379a"/>
<circle cx="817.42" cy="20.90" r="6.50" fill="#41379a"/>
<circle cx="830.50" cy="20.90" r="1.82" fill="#0c3a9b"/>
<circle cx="845.92" cy="20.90" r="6.50" fill="#8c47a6"/>
<circle cx="859.72" cy="20.90" r="4.68" fill="#0c3a9b"/>
<circle cx="874.42" cy="20.90" r="6.50" fill="#8c47a6"/>
<circle cx="888.22" cy="20.90" r="4.68" fill="#41379a"/>
<circle cx="617.92" cy="36.55" r="6.50" fill="#e6b04a"/>
<circle cx="630.99" cy="36.55" r="1.77" fill="#6e3c9e"/>
<circle cx="645.24" cy="36.55" r="1.77" fill="#6e3c9e"/>
<circle cx="659.49" cy="36.55" r="1.77" fill="#6e3c9e"/>
<circle cx="673.74" cy="36.55" r="1.77" fill="#6e3c9e"/>
<circle cx="687.99" cy="36.55" r="1.77" fill="#6e3c9e"/>
<circle cx="702.24" cy="36.55" r="1.77" fill="#6e3c9e"/>
<circle cx="716.49" cy="36.55" r="1.77" fill="#6e3c9e"/>
<circle cx="730.74" cy="36.55" r="1.77" fill="#6e3c9e"/>
<circle cx="744.99" cy="36.55" r="1.77" fill="#1c2b74"/>
<circle cx="759.24" cy="36.55" r="1.77" fill="#1c2b74"/>
<circle cx="773.49" cy="36.55" r="1.77" fill="#1c2b74"/>
<circle cx="787.74" cy="36.55" r="1.77" fill="#1c2b74"/>
<circle cx="801.99" cy="36.55" r="1.77" fill="#1c2b74"/>
<circle cx="816.24" cy="36.55" r="1.77" fill="#1c2b74"/>
<circle cx="830.49" cy="36.55" r="1.77" fill="#1c2b74"/>
<circle cx="844.74" cy="36.55" r="1.77" fill="#1c2b74"/>
<circle cx="858.99" cy="36.55" r="1.77" fill="#1c2b74"/>
<circle cx="873.24" cy="36.55" r="1.77" fill="#1c2b74"/>
<circle cx="887.49" cy="36.55" r="1.77" fill="#1c2b74"/>
<circle cx="617.92" cy="52.19" r="6.50" fill="#ec5220"/>
<circle cx="630.99" cy="52.19" r="1.77" fill="#6e3c9e"/>
<circle cx="645.84" cy="52.19" r="4.16" fill="#8c47a6"/>
<circle cx="659.49" cy="52.19" r="1.77" fill="#6e3c9e"/>
<circle cx="674.27" cy="52.19" r="3.90" fill="#8c47a6"/>
<circle cx="688.59" cy="52.19" r="4.16" fill="#a8659a"/>
<circle cx="702.24" cy="52.19" r="1.77" fill="#6e3c9e"/>
<circle cx="716.49" cy="52.19" r="1.77" fill="#6e3c9e"/>
<circle cx="730.74" cy="52.19" r="1.77" fill="#6e3c9e"/>
<circle cx="745.33" cy="52.19" r="3.12" fill="#8c47a6"/>
<circle cx="759.24" cy="52.19" r="1.77" fill="#1c2b74"/>
<circle cx="773.49" cy="52.19" r="1.77" fill="#1c2b74"/>
<circle cx="787.74" cy="52.19" r="1.77" fill="#1c2b74"/>
<circle cx="801.99" cy="52.19" r="1.77" fill="#1c2b74"/>
<circle cx="816.24" cy="52.19" r="1.77" fill="#1c2b74"/>
<circle cx="830.49" cy="52.19" r="1.77" fill="#1c2b74"/>
<circle cx="844.74" cy="52.19" r="1.77" fill="#1c2b74"/>
<circle cx="858.99" cy="52.19" r="1.77" fill="#1c2b74"/>
<circle cx="873.24" cy="52.19" r="1.77" fill="#1c2b74"/>
<circle cx="887.49" cy="52.19" r="1.77" fill="#1c2b74"/>
<circle cx="617.92" cy="67.84" r="6.50" fill="#a8659a"/>
<circle cx="630.99" cy="67.84" r="1.77" fill="#6e3c9e"/>
<circle cx="645.24" cy="67.84" r="1.77" fill="#6e3c9e"/>
<circle cx="660.74" cy="67.84" r="6.76" fill="#8c47a6"/>
<circle cx="673.74" cy="67.84" r="1.77" fill="#6e3c9e"/>
<circle cx="689.17" cy="67.84" r="6.50" fill="#c47c78"/>
<circle cx="703.42" cy="67.84" r="6.50" fill="#8c47a6"/>
<circle cx="717.74" cy="67.84" r="6.76" fill="#8c47a6"/>
<circle cx="730.74" cy="67.84" r="1.77" fill="#6e3c9e"/>
<circle cx="744.99" cy="67.84" r="1.77" fill="#6e3c9e"/>
<circle cx="759.24" cy="67.84" r="1.77" fill="#1c2b74"/>
<circle cx="773.49" cy="67.84" r="1.77" fill="#1c2b74"/>
<circle cx="787.74" cy="67.84" r="1.77" fill="#1c2b74"/>
<circle cx="801.99" cy="67.84" r="1.77" fill="#1c2b74"/>
<circle cx="816.24" cy="67.84" r="1.77" fill="#1c2b74"/>
<circle cx="830.49" cy="67.84" r="1.77" fill="#1c2b74"/>
<circle cx="844.74" cy="67.84" r="1.77" fill="#1c2b74"/>
<circle cx="858.99" cy="67.84" r="1.77" fill="#1c2b74"/>
<circle cx="873.24" cy="67.84" r="1.77" fill="#1c2b74"/>
<circle cx="887.49" cy="67.84" r="1.77" fill="#1c2b74"/>
<circle cx="617.92" cy="83.48" r="6.50" fill="#f5aa1e"/>
<circle cx="632.17" cy="83.48" r="6.50" fill="#f6c51b"/>
<circle cx="646.42" cy="83.48" r="6.50" fill="#d99b62"/>
<circle cx="659.44" cy="83.48" r="1.56" fill="#d99b62"/>
<circle cx="674.92" cy="83.48" r="6.50" fill="#d99b62"/>
<circle cx="689.17" cy="83.48" r="6.50" fill="#e6b04a"/>
<circle cx="703.42" cy="83.48" r="6.50" fill="#f6c51b"/>
<circle cx="716.49" cy="83.48" r="1.77" fill="#d99b62"/>
<circle cx="731.92" cy="83.48" r="6.50" fill="#f6c51b"/>
<circle cx="744.99" cy="83.48" r="1.77" fill="#1c2b74"/>
<circle cx="759.24" cy="83.48" r="1.77" fill="#a8659a"/>
<circle cx="773.83" cy="83.48" r="3.12" fill="#b06a86"/>
<circle cx="787.74" cy="83.48" r="1.77" fill="#6e3c9e"/>
<circle cx="803.11" cy="83.48" r="6.24" fill="#e6b04a"/>
<circle cx="817.16" cy="83.48" r="5.46" fill="#c47c78"/>
<circle cx="831.61" cy="83.48" r="6.24" fill="#d99b62"/>
<circle cx="845.79" cy="83.48" r="5.98" fill="#c47c78"/>
<circle cx="858.99" cy="83.48" r="1.77" fill="#6e3c9e"/>
<circle cx="873.24" cy="83.48" r="1.77" fill="#6e3c9e"/>
<circle cx="887.49" cy="83.48" r="1.77" fill="#1c2b74"/>
<circle cx="617.92" cy="99.12" r="6.50" fill="#f39420"/>
<circle cx="632.17" cy="99.12" r="6.50" fill="#e6b04a"/>
<circle cx="646.42" cy="99.12" r="6.50" fill="#e6b04a"/>
<circle cx="659.49" cy="99.12" r="1.77" fill="#d99b62"/>
<circle cx="673.74" cy="99.12" r="1.77" fill="#d99b62"/>
<circle cx="689.17" cy="99.12" r="6.50" fill="#d99b62"/>
<circle cx="703.42" cy="99.12" r="6.50" fill="#f6c51b"/>
<circle cx="716.49" cy="99.12" r="1.77" fill="#d99b62"/>
<circle cx="730.74" cy="99.12" r="1.77" fill="#d99b62"/>
<circle cx="744.99" cy="99.12" r="1.77" fill="#d99b62"/>
<circle cx="759.24" cy="99.12" r="1.77" fill="#6e3c9e"/>
<circle cx="773.49" cy="99.12" r="1.77" fill="#a8659a"/>
<circle cx="787.74" cy="99.12" r="1.77" fill="#1c2b74"/>
<circle cx="803.11" cy="99.12" r="6.24" fill="#d99b62"/>
<circle cx="816.25" cy="99.12" r="1.82" fill="#b06a86"/>
<circle cx="831.09" cy="99.12" r="4.16" fill="#c47c78"/>
<circle cx="844.69" cy="99.12" r="1.56" fill="#b06a86"/>
<circle cx="858.99" cy="99.12" r="1.77" fill="#1c2b74"/>
<circle cx="873.24" cy="99.12" r="1.77" fill="#1c2b74"/>
<circle cx="887.49" cy="99.12" r="1.77" fill="#1c2b74"/>
<circle cx="617.92" cy="114.77" r="6.50" fill="#f5aa1e"/>
<circle cx="630.99" cy="114.77" r="1.77" fill="#d99b62"/>
<circle cx="645.24" cy="114.77" r="1.77" fill="#d99b62"/>
<circle cx="659.49" cy="114.77" r="1.77" fill="#d99b62"/>
<circle cx="673.74" cy="114.77" r="1.77" fill="#d99b62"/>
<circle cx="687.99" cy="114.77" r="1.77" fill="#d99b62"/>
<circle cx="702.24" cy="114.77" r="1.77" fill="#d99b62"/>
<circle cx="716.49" cy="114.77" r="1.77" fill="#d99b62"/>
<circle cx="730.74" cy="114.77" r="1.77" fill="#d99b62"/>
<circle cx="744.99" cy="114.77" r="1.77" fill="#1c2b74"/>
<circle cx="759.24" cy="114.77" r="1.77" fill="#1c2b74"/>
<circle cx="773.49" cy="114.77" r="1.77" fill="#1c2b74"/>
<circle cx="787.74" cy="114.77" r="1.77" fill="#1c2b74"/>
<circle cx="801.99" cy="114.77" r="1.77" fill="#b06a86"/>
<circle cx="816.24" cy="114.77" r="1.77" fill="#6e3c9e"/>
<circle cx="830.49" cy="114.77" r="1.77" fill="#6e3c9e"/>
<circle cx="844.74" cy="114.77" r="1.77" fill="#1c2b74"/>
<circle cx="858.99" cy="114.77" r="1.77" fill="#1c2b74"/>
<circle cx="873.24" cy="114.77" r="1.77" fill="#1c2b74"/>
<circle cx="887.49" cy="114.77" r="1.77" fill="#1c2b74"/>
<circle cx="617.92" cy="130.41" r="6.50" fill="#f5aa1e"/>
<circle cx="630.99" cy="130.41" r="1.77" fill="#d99b62"/>
<circle cx="645.24" cy="130.41" r="1.77" fill="#d99b62"/>
<circle cx="659.49" cy="130.41" r="1.77" fill="#d99b62"/>
<circle cx="673.74" cy="130.41" r="1.77" fill="#d99b62"/>
<circle cx="687.99" cy="130.41" r="1.77" fill="#d99b62"/>
<circle cx="702.24" cy="130.41" r="1.77" fill="#d99b62"/>
<circle cx="716.49" cy="130.41" r="1.77" fill="#d99b62"/>
<circle cx="730.74" cy="130.41" r="1.77" fill="#d99b62"/>
<circle cx="744.99" cy="130.41" r="1.77" fill="#1c2b74"/>
<circle cx="759.24" cy="130.41" r="1.77" fill="#1c2b74"/>
<circle cx="773.49" cy="130.41" r="1.77" fill="#1c2b74"/>
<circle cx="787.74" cy="130.41" r="1.77" fill="#1c2b74"/>
<circle cx="801.99" cy="130.41" r="1.77" fill="#b06a86"/>
<circle cx="816.24" cy="130.41" r="1.77" fill="#6e3c9e"/>
<circle cx="830.49" cy="130.41" r="1.77" fill="#6e3c9e"/>
<circle cx="844.74" cy="130.41" r="1.77" fill="#1c2b74"/>
<circle cx="858.99" cy="130.41" r="1.77" fill="#1c2b74"/>
<circle cx="873.24" cy="130.41" r="1.77" fill="#1c2b74"/>
<circle cx="887.49" cy="130.41" r="1.77" fill="#1c2b74"/>
<circle cx="617.92" cy="146.06" r="6.50" fill="#e8321e"/>
<circle cx="631.00" cy="146.06" r="1.82" fill="#d99b62"/>
<circle cx="645.97" cy="146.06" r="4.68" fill="#d99b62"/>
<circle cx="659.44" cy="146.06" r="1.56" fill="#d99b62"/>
<circle cx="674.34" cy="146.06" r="4.16" fill="#d99b62"/>
<circle cx="688.59" cy="146.06" r="4.16" fill="#e6b04a"/>
<circle cx="702.24" cy="146.06" r="1.77" fill="#d99b62"/>
<circle cx="716.44" cy="146.06" r="1.56" fill="#d99b62"/>
<circle cx="730.74" cy="146.06" r="1.77" fill="#d99b62"/>
<circle cx="745.39" cy="146.06" r="3.38" fill="#d99b62"/>
<circle cx="759.24" cy="146.06" r="1.77" fill="#1c2b74"/>
<circle cx="773.49" cy="146.06" r="1.77" fill="#1c2b74"/>
<circle cx="787.74" cy="146.06" r="1.77" fill="#1c2b74"/>
<circle cx="801.99" cy="146.06" r="1.77" fill="#b06a86"/>
<circle cx="816.24" cy="146.06" r="1.77" fill="#6e3c9e"/>
<circle cx="830.49" cy="146.06" r="1.77" fill="#a8659a"/>
<circle cx="844.74" cy="146.06" r="1.77" fill="#6e3c9e"/>
<circle cx="858.99" cy="146.06" r="1.77" fill="#1c2b74"/>
<circle cx="873.24" cy="146.06" r="1.77" fill="#1c2b74"/>
<circle cx="887.49" cy="146.06" r="1.77" fill="#1c2b74"/>
<circle cx="617.92" cy="161.71" r="6.50" fill="#ef6a1f"/>
<circle cx="630.99" cy="161.71" r="1.77" fill="#1c2b74"/>
<circle cx="645.24" cy="161.71" r="1.77" fill="#1c2b74"/>
<circle cx="659.49" cy="161.71" r="1.77" fill="#1c2b74"/>
<circle cx="673.74" cy="161.71" r="1.77" fill="#1c2b74"/>
<circle cx="687.99" cy="161.71" r="1.77" fill="#1c2b74"/>
<circle cx="702.24" cy="161.71" r="1.77" fill="#1c2b74"/>
<circle cx="716.49" cy="161.71" r="1.77" fill="#1c2b74"/>
<circle cx="730.74" cy="161.71" r="1.77" fill="#1c2b74"/>
<circle cx="744.99" cy="161.71" r="1.77" fill="#1c2b74"/>
<circle cx="759.24" cy="161.71" r="1.77" fill="#f6c51b"/>
<circle cx="773.49" cy="161.71" r="1.77" fill="#1c2b74"/>
<circle cx="787.74" cy="161.71" r="1.77" fill="#6e3c9e"/>
<circle cx="801.99" cy="161.71" r="1.77" fill="#1c2b74"/>
<circle cx="816.24" cy="161.71" r="1.77" fill="#1c2b74"/>
<circle cx="830.49" cy="161.71" r="1.77" fill="#1c2b74"/>
<circle cx="844.74" cy="161.71" r="1.77" fill="#1c2b74"/>
<circle cx="858.99" cy="161.71" r="1.77" fill="#1c2b74"/>
<circle cx="873.24" cy="161.71" r="1.77" fill="#1c2b74"/>
<circle cx="887.49" cy="161.71" r="1.77" fill="#1c2b74"/>
<circle cx="617.86" cy="177.35" r="6.24" fill="#41379a"/>
<circle cx="630.99" cy="177.35" r="1.77" fill="#1c2b74"/>
<circle cx="645.24" cy="177.35" r="1.77" fill="#1c2b74"/>
<circle cx="659.49" cy="177.35" r="1.77" fill="#1c2b74"/>
<circle cx="673.74" cy="177.35" r="1.77" fill="#1c2b74"/>
<circle cx="687.99" cy="177.35" r="1.77" fill="#1c2b74"/>
<circle cx="702.24" cy="177.35" r="1.77" fill="#1c2b74"/>
<circle cx="716.49" cy="177.35" r="1.77" fill="#1c2b74"/>
<circle cx="730.74" cy="177.35" r="1.77" fill="#1c2b74"/>
<circle cx="744.99" cy="177.35" r="1.77" fill="#1c2b74"/>
<circle cx="759.24" cy="177.35" r="1.77" fill="#1c2b74"/>
<circle cx="773.49" cy="177.35" r="1.77" fill="#1c2b74"/>
<circle cx="787.74" cy="177.35" r="1.77" fill="#1c2b74"/>
<circle cx="801.99" cy="177.35" r="1.77" fill="#1c2b74"/>
<circle cx="816.24" cy="177.35" r="1.77" fill="#1c2b74"/>
<circle cx="830.49" cy="177.35" r="1.77" fill="#1c2b74"/>
<circle cx="844.74" cy="177.35" r="1.77" fill="#1c2b74"/>
<circle cx="858.99" cy="177.35" r="1.77" fill="#1c2b74"/>
<circle cx="873.24" cy="177.35" r="1.77" fill="#1c2b74"/>
<circle cx="887.49" cy="177.35" r="1.77" fill="#1c2b74"/>
<circle cx="616.74" cy="193.00" r="1.77" fill="#f6c51b"/>
<circle cx="630.99" cy="193.00" r="1.77" fill="#f6c51b"/>
<circle cx="645.24" cy="193.00" r="1.77" fill="#f6c51b"/>
<circle cx="659.49" cy="193.00" r="1.77" fill="#f6c51b"/>
<circle cx="673.74" cy="193.00" r="1.77" fill="#f6c51b"/>
<circle cx="687.99" cy="193.00" r="1.77" fill="#f6c51b"/>
<circle cx="702.24" cy="193.00" r="1.77" fill="#f6c51b"/>
<circle cx="716.49" cy="193.00" r="1.77" fill="#f6c51b"/>
<circle cx="730.74" cy="193.00" r="1.77" fill="#f6c51b"/>
<circle cx="744.99" cy="193.00" r="1.77" fill="#f6c51b"/>
<circle cx="759.24" cy="193.00" r="1.77" fill="#1c2b74"/>
<circle cx="773.49" cy="193.00" r="1.77" fill="#e6b04a"/>
<circle cx="787.74" cy="193.00" r="1.77" fill="#d99b62"/>
<circle cx="803.24" cy="193.00" r="6.76" fill="#cc141d"/>
<circle cx="816.24" cy="193.00" r="1.77" fill="#6e3c9e"/>
<circle cx="830.49" cy="193.00" r="1.77" fill="#1c2b74"/>
<circle cx="844.74" cy="193.00" r="1.77" fill="#d99b62"/>
<circle cx="858.99" cy="193.00" r="1.77" fill="#6e3c9e"/>
<circle cx="873.24" cy="193.00" r="1.77" fill="#1c2b74"/>
<circle cx="887.49" cy="193.00" r="1.77" fill="#1c2b74"/>
<circle cx="616.74" cy="208.64" r="1.77" fill="#f6c51b"/>
<circle cx="630.99" cy="208.64" r="1.77" fill="#f6c51b"/>
<circle cx="645.24" cy="208.64" r="1.77" fill="#f6c51b"/>
<circle cx="659.49" cy="208.64" r="1.77" fill="#f6c51b"/>
<circle cx="673.74" cy="208.64" r="1.77" fill="#f6c51b"/>
<circle cx="687.99" cy="208.64" r="1.77" fill="#f6c51b"/>
<circle cx="702.24" cy="208.64" r="1.77" fill="#f6c51b"/>
<circle cx="716.49" cy="208.64" r="1.77" fill="#f6c51b"/>
<circle cx="730.74" cy="208.64" r="1.77" fill="#f6c51b"/>
<circle cx="744.99" cy="208.64" r="1.77" fill="#f6c51b"/>
<circle cx="759.24" cy="208.64" r="1.77" fill="#1c2b74"/>
<circle cx="773.49" cy="208.64" r="1.77" fill="#e6b04a"/>
<circle cx="787.74" cy="208.64" r="1.77" fill="#d99b62"/>
<circle cx="803.24" cy="208.64" r="6.76" fill="#cc141d"/>
<circle cx="816.24" cy="208.64" r="1.77" fill="#1c2b74"/>
<circle cx="830.49" cy="208.64" r="1.77" fill="#1c2b74"/>
<circle cx="844.74" cy="208.64" r="1.77" fill="#d99b62"/>
<circle cx="858.99" cy="208.64" r="1.77" fill="#1c2b74"/>
<circle cx="873.24" cy="208.64" r="1.77" fill="#1c2b74"/>
<circle cx="887.49" cy="208.64" r="1.77" fill="#1c2b74"/>
<circle cx="617.92" cy="224.28" r="6.50" fill="#e5171c"/>
<circle cx="632.17" cy="224.28" r="6.50" fill="#e5171c"/>
<circle cx="646.42" cy="224.28" r="6.50" fill="#e5171c"/>
<circle cx="660.67" cy="224.28" r="6.50" fill="#e5171c"/>
<circle cx="673.74" cy="224.28" r="1.77" fill="#e5171c"/>
<circle cx="687.99" cy="224.28" r="1.77" fill="#e5171c"/>
<circle cx="702.24" cy="224.28" r="1.77" fill="#e5171c"/>
<circle cx="716.49" cy="224.28" r="1.77" fill="#e5171c"/>
<circle cx="730.74" cy="224.28" r="1.77" fill="#e5171c"/>
<circle cx="744.99" cy="224.28" r="1.77" fill="#e5171c"/>
<circle cx="759.24" cy="224.28" r="1.77" fill="#1c2b74"/>
<circle cx="773.49" cy="224.28" r="1.77" fill="#6e3c9e"/>
<circle cx="787.74" cy="224.28" r="1.77" fill="#1c2b74"/>
<circle cx="801.99" cy="224.28" r="1.77" fill="#1c2b74"/>
<circle cx="816.24" cy="224.28" r="1.77" fill="#1c2b74"/>
<circle cx="830.49" cy="224.28" r="1.77" fill="#1c2b74"/>
<circle cx="845.21" cy="224.28" r="3.64" fill="#41379a"/>
<circle cx="858.99" cy="224.28" r="1.77" fill="#1c2b74"/>
<circle cx="873.24" cy="224.28" r="1.77" fill="#1c2b74"/>
<circle cx="887.49" cy="224.28" r="1.77" fill="#1c2b74"/>
<circle cx="617.92" cy="239.93" r="6.50" fill="#e5171c"/>
<circle cx="631.00" cy="239.93" r="1.82" fill="#e5171c"/>
<circle cx="645.24" cy="239.93" r="1.77" fill="#e5171c"/>
<circle cx="660.67" cy="239.93" r="6.50" fill="#e5171c"/>
<circle cx="673.74" cy="239.93" r="1.77" fill="#e5171c"/>
<circle cx="689.11" cy="239.93" r="6.24" fill="#e5171c"/>
<circle cx="702.24" cy="239.93" r="1.77" fill="#e5171c"/>
<circle cx="716.49" cy="239.93" r="1.77" fill="#e5171c"/>
<circle cx="730.74" cy="239.93" r="1.77" fill="#e5171c"/>
<circle cx="744.99" cy="239.93" r="1.77" fill="#e5171c"/>
<circle cx="759.24" cy="239.93" r="1.77" fill="#1c2b74"/>
<circle cx="773.49" cy="239.93" r="1.77" fill="#1c2b74"/>
<circle cx="787.74" cy="239.93" r="1.77" fill="#1c2b74"/>
<circle cx="801.99" cy="239.93" r="1.77" fill="#1c2b74"/>
<circle cx="816.24" cy="239.93" r="1.77" fill="#1c2b74"/>
<circle cx="830.49" cy="239.93" r="1.77" fill="#1c2b74"/>
<circle cx="844.74" cy="239.93" r="1.77" fill="#1c2b74"/>
<circle cx="858.99" cy="239.93" r="1.77" fill="#1c2b74"/>
<circle cx="873.24" cy="239.93" r="1.77" fill="#1c2b74"/>
<circle cx="887.49" cy="239.93" r="1.77" fill="#1c2b74"/>
<circle cx="617.86" cy="255.57" r="6.24" fill="#8c47a6"/>
<circle cx="630.99" cy="255.57" r="1.77" fill="#1c2b74"/>
<circle cx="645.24" cy="255.57" r="1.77" fill="#1c2b74"/>
<circle cx="660.67" cy="255.57" r="6.50" fill="#6e3c9e"/>
<circle cx="673.74" cy="255.57" r="1.77" fill="#1c2b74"/>
<circle cx="687.99" cy="255.57" r="1.77" fill="#1c2b74"/>
<circle cx="702.24" cy="255.57" r="1.77" fill="#1c2b74"/>
<circle cx="716.49" cy="255.57" r="1.77" fill="#1c2b74"/>
<circle cx="730.74" cy="255.57" r="1.77" fill="#1c2b74"/>
<circle cx="744.99" cy="255.57" r="1.77" fill="#1c2b74"/>
<circle cx="759.24" cy="255.57" r="1.77" fill="#1c2b74"/>
<circle cx="773.49" cy="255.57" r="1.77" fill="#1c2b74"/>
<circle cx="787.74" cy="255.57" r="1.77" fill="#1c2b74"/>
<circle cx="801.99" cy="255.57" r="1.77" fill="#1c2b74"/>
<circle cx="816.24" cy="255.57" r="1.77" fill="#1c2b74"/>
<circle cx="830.49" cy="255.57" r="1.77" fill="#1c2b74"/>
<circle cx="844.74" cy="255.57" r="1.77" fill="#1c2b74"/>
<circle cx="858.99" cy="255.57" r="1.77" fill="#1c2b74"/>
<circle cx="873.24" cy="255.57" r="1.77" fill="#1c2b74"/>
<circle cx="887.49" cy="255.57" r="1.77" fill="#1c2b74"/>
<circle cx="616.69" cy="271.22" r="1.56" fill="#6e3c9e"/>
<circle cx="632.17" cy="271.22" r="6.50" fill="#f5aa1e"/>
<circle cx="646.42" cy="271.22" r="6.50" fill="#f5aa1e"/>
<circle cx="660.67" cy="271.22" r="6.50" fill="#e6b04a"/>
<circle cx="674.92" cy="271.22" r="6.50" fill="#f5aa1e"/>
<circle cx="689.17" cy="271.22" r="6.50" fill="#f2821f"/>
<circle cx="703.42" cy="271.22" r="6.50" fill="#f5aa1e"/>
<circle cx="717.54" cy="271.22" r="5.98" fill="#f6c51b"/>
<circle cx="731.73" cy="271.22" r="5.72" fill="#e6b04a"/>
<circle cx="745.72" cy="271.22" r="4.68" fill="#d99b62"/>
<circle cx="760.49" cy="271.22" r="6.76" fill="#f6c51b"/>
<circle cx="773.49" cy="271.22" r="1.77" fill="#f6c51b"/>
<circle cx="787.74" cy="271.22" r="1.77" fill="#f6c51b"/>
<circle cx="801.99" cy="271.22" r="1.77" fill="#f6c51b"/>
<circle cx="816.24" cy="271.22" r="1.77" fill="#f6c51b"/>
<circle cx="830.49" cy="271.22" r="1.77" fill="#f6c51b"/>
<circle cx="845.99" cy="271.22" r="6.76" fill="#f6c51b"/>
<circle cx="858.99" cy="271.22" r="1.77" fill="#f6c51b"/>
<circle cx="873.24" cy="271.22" r="1.77" fill="#1c2b74"/>
<circle cx="887.49" cy="271.22" r="1.77" fill="#1c2b74"/>
<circle cx="616.74" cy="286.86" r="1.77" fill="#1c2b74"/>
<circle cx="632.17" cy="286.86" r="6.50" fill="#0c3a9b"/>
<circle cx="645.24" cy="286.86" r="1.77" fill="#1c2b74"/>
<circle cx="659.49" cy="286.86" r="1.77" fill="#1c2b74"/>
<circle cx="673.74" cy="286.86" r="1.77" fill="#1c2b74"/>
<circle cx="687.99" cy="286.86" r="1.77" fill="#1c2b74"/>
<circle cx="702.24" cy="286.86" r="1.77" fill="#1c2b74"/>
<circle cx="716.49" cy="286.86" r="1.77" fill="#1c2b74"/>
<circle cx="730.74" cy="286.86" r="1.77" fill="#1c2b74"/>
<circle cx="744.99" cy="286.86" r="1.77" fill="#1c2b74"/>
<circle cx="759.24" cy="286.86" r="1.77" fill="#1c2b74"/>
<circle cx="773.49" cy="286.86" r="1.77" fill="#1c2b74"/>
<circle cx="787.74" cy="286.86" r="1.77" fill="#1c2b74"/>
<circle cx="801.99" cy="286.86" r="1.77" fill="#1c2b74"/>
<circle cx="816.24" cy="286.86" r="1.77" fill="#1c2b74"/>
<circle cx="830.49" cy="286.86" r="1.77" fill="#1c2b74"/>
<circle cx="844.74" cy="286.86" r="1.77" fill="#1c2b74"/>
<circle cx="858.99" cy="286.86" r="1.77" fill="#1c2b74"/>
<circle cx="873.24" cy="286.86" r="1.77" fill="#1c2b74"/>
<circle cx="887.49" cy="286.86" r="1.77" fill="#1c2b74"/>
<circle cx="616.74" cy="302.51" r="1.77" fill="#1c2b74"/>
<circle cx="630.99" cy="302.51" r="1.77" fill="#1c2b74"/>
<circle cx="645.24" cy="302.51" r="1.77" fill="#1c2b74"/>
<circle cx="660.61" cy="302.51" r="6.24" fill="#41379a"/>
<circle cx="673.74" cy="302.51" r="1.77" fill="#1c2b74"/>
<circle cx="687.99" cy="302.51" r="1.77" fill="#1c2b74"/>
<circle cx="702.24" cy="302.51" r="1.77" fill="#1c2b74"/>
<circle cx="716.49" cy="302.51" r="1.77" fill="#1c2b74"/>
<circle cx="730.74" cy="302.51" r="1.77" fill="#1c2b74"/>
<circle cx="744.99" cy="302.51" r="1.77" fill="#1c2b74"/>
<circle cx="759.24" cy="302.51" r="1.77" fill="#1c2b74"/>
<circle cx="773.49" cy="302.51" r="1.77" fill="#1c2b74"/>
<circle cx="787.74" cy="302.51" r="1.77" fill="#1c2b74"/>
<circle cx="801.99" cy="302.51" r="1.77" fill="#1c2b74"/>
<circle cx="816.24" cy="302.51" r="1.77" fill="#1c2b74"/>
<circle cx="830.49" cy="302.51" r="1.77" fill="#1c2b74"/>
<circle cx="844.74" cy="302.51" r="1.77" fill="#1c2b74"/>
<circle cx="858.99" cy="302.51" r="1.77" fill="#1c2b74"/>
<circle cx="873.24" cy="302.51" r="1.77" fill="#1c2b74"/>
<circle cx="887.49" cy="302.51" r="1.77" fill="#1c2b74"/>
<circle cx="616.74" cy="318.15" r="1.77" fill="#1c2b74"/>
<circle cx="630.99" cy="318.15" r="1.77" fill="#1c2b74"/>
<circle cx="645.24" cy="318.15" r="1.77" fill="#1c2b74"/>
<circle cx="660.61" cy="318.15" r="6.24" fill="#0c3a9b"/>
<circle cx="673.74" cy="318.15" r="1.77" fill="#1c2b74"/>
<circle cx="687.99" cy="318.15" r="1.77" fill="#1c2b74"/>
<circle cx="702.24" cy="318.15" r="1.77" fill="#1c2b74"/>
<circle cx="716.49" cy="318.15" r="1.77" fill="#1c2b74"/>
<circle cx="730.74" cy="318.15" r="1.77" fill="#1c2b74"/>
<circle cx="744.99" cy="318.15" r="1.77" fill="#1c2b74"/>
<circle cx="759.24" cy="318.15" r="1.77" fill="#1c2b74"/>
<circle cx="773.49" cy="318.15" r="1.77" fill="#1c2b74"/>
<circle cx="787.74" cy="318.15" r="1.77" fill="#1c2b74"/>
<circle cx="801.99" cy="318.15" r="1.77" fill="#1c2b74"/>
<circle cx="816.24" cy="318.15" r="1.77" fill="#1c2b74"/>
<circle cx="830.49" cy="318.15" r="1.77" fill="#1c2b74"/>
<circle cx="844.74" cy="318.15" r="1.77" fill="#1c2b74"/>
<circle cx="858.99" cy="318.15" r="1.77" fill="#1c2b74"/>
<circle cx="873.24" cy="318.15" r="1.77" fill="#1c2b74"/>
<circle cx="887.49" cy="318.15" r="1.77" fill="#1c2b74"/>
<circle cx="617.86" cy="333.80" r="6.24" fill="#41379a"/>
<circle cx="632.11" cy="333.80" r="6.24" fill="#e6b04a"/>
<circle cx="646.36" cy="333.80" r="6.24" fill="#0c3a9b"/>
<circle cx="659.49" cy="333.80" r="1.77" fill="#1c2b74"/>
<circle cx="673.74" cy="333.80" r="1.77" fill="#1c2b74"/>
<circle cx="688.85" cy="333.80" r="5.20" fill="#0c3a9b"/>
<circle cx="702.24" cy="333.80" r="1.77" fill="#1c2b74"/>
<circle cx="716.49" cy="333.80" r="1.77" fill="#1c2b74"/>
<circle cx="730.74" cy="333.80" r="1.77" fill="#1c2b74"/>
<circle cx="744.99" cy="333.80" r="1.77" fill="#1c2b74"/>
<circle cx="759.24" cy="333.80" r="1.77" fill="#d99b62"/>
<circle cx="773.49" cy="333.80" r="1.77" fill="#d99b62"/>
<circle cx="787.74" cy="333.80" r="1.77" fill="#d99b62"/>
<circle cx="801.99" cy="333.80" r="1.77" fill="#d99b62"/>
<circle cx="816.24" cy="333.80" r="1.77" fill="#d99b62"/>
<circle cx="830.49" cy="333.80" r="1.77" fill="#d99b62"/>
<circle cx="844.74" cy="333.80" r="1.77" fill="#1c2b74"/>
<circle cx="858.99" cy="333.80" r="1.77" fill="#d99b62"/>
<circle cx="873.24" cy="333.80" r="1.77" fill="#1c2b74"/>
<circle cx="887.49" cy="333.80" r="1.77" fill="#1c2b74"/>
<circle cx="616.74" cy="349.44" r="1.77" fill="#e5171c"/>
<circle cx="632.11" cy="349.44" r="6.24" fill="#d81a1f"/>
<circle cx="645.24" cy="349.44" r="1.77" fill="#e5171c"/>
<circle cx="659.49" cy="349.44" r="1.77" fill="#e5171c"/>
<circle cx="673.74" cy="349.44" r="1.77" fill="#e5171c"/>
<circle cx="687.99" cy="349.44" r="1.77" fill="#1c2b74"/>
<circle cx="702.24" cy="349.44" r="1.77" fill="#1c2b74"/>
<circle cx="716.49" cy="349.44" r="1.77" fill="#e5171c"/>
<circle cx="730.74" cy="349.44" r="1.77" fill="#1c2b74"/>
<circle cx="744.99" cy="349.44" r="1.77" fill="#1c2b74"/>
<circle cx="760.42" cy="349.44" r="6.50" fill="#f5aa1e"/>
<circle cx="774.22" cy="349.44" r="4.68" fill="#c47c78"/>
<circle cx="787.74" cy="349.44" r="1.77" fill="#1c2b74"/>
<circle cx="801.99" cy="349.44" r="1.77" fill="#1c2b74"/>
<circle cx="816.24" cy="349.44" r="1.77" fill="#1c2b74"/>
<circle cx="830.49" cy="349.44" r="1.77" fill="#1c2b74"/>
<circle cx="844.74" cy="349.44" r="1.77" fill="#1c2b74"/>
<circle cx="858.99" cy="349.44" r="1.77" fill="#1c2b74"/>
<circle cx="873.24" cy="349.44" r="1.77" fill="#1c2b74"/>
<circle cx="887.49" cy="349.44" r="1.77" fill="#1c2b74"/>
<circle cx="616.74" cy="365.09" r="1.77" fill="#e5171c"/>
<circle cx="630.99" cy="365.09" r="1.77" fill="#e5171c"/>
<circle cx="645.24" cy="365.09" r="1.77" fill="#e5171c"/>
<circle cx="660.61" cy="365.09" r="6.24" fill="#d81a1f"/>
<circle cx="673.74" cy="365.09" r="1.77" fill="#e5171c"/>
<circle cx="687.99" cy="365.09" r="1.77" fill="#e5171c"/>
<circle cx="702.24" cy="365.09" r="1.77" fill="#e5171c"/>
<circle cx="716.49" cy="365.09" r="1.77" fill="#e5171c"/>
<circle cx="730.74" cy="365.09" r="1.77" fill="#e5171c"/>
<circle cx="744.99" cy="365.09" r="1.77" fill="#e5171c"/>
<circle cx="759.24" cy="365.09" r="1.77" fill="#f6c51b"/>
<circle cx="773.49" cy="365.09" r="1.77" fill="#b06a86"/>
<circle cx="787.74" cy="365.09" r="1.77" fill="#1c2b74"/>
<circle cx="801.99" cy="365.09" r="1.77" fill="#1c2b74"/>
<circle cx="816.24" cy="365.09" r="1.77" fill="#1c2b74"/>
<circle cx="830.49" cy="365.09" r="1.77" fill="#1c2b74"/>
<circle cx="844.74" cy="365.09" r="1.77" fill="#1c2b74"/>
<circle cx="858.99" cy="365.09" r="1.77" fill="#1c2b74"/>
<circle cx="873.24" cy="365.09" r="1.77" fill="#1c2b74"/>
<circle cx="887.49" cy="365.09" r="1.77" fill="#1c2b74"/>
<circle cx="616.74" cy="380.73" r="1.77" fill="#e5171c"/>
<circle cx="630.99" cy="380.73" r="1.77" fill="#e5171c"/>
<circle cx="645.24" cy="380.73" r="1.77" fill="#e5171c"/>
<circle cx="660.61" cy="380.73" r="6.24" fill="#d81a1f"/>
<circle cx="673.74" cy="380.73" r="1.77" fill="#e5171c"/>
<circle cx="687.99" cy="380.73" r="1.77" fill="#e5171c"/>
<circle cx="702.24" cy="380.73" r="1.77" fill="#e5171c"/>
<circle cx="716.49" cy="380.73" r="1.77" fill="#1c2b74"/>
<circle cx="730.74" cy="380.73" r="1.77" fill="#1c2b74"/>
<circle cx="744.99" cy="380.73" r="1.77" fill="#e5171c"/>
<circle cx="759.24" cy="380.73" r="1.77" fill="#f6c51b"/>
<circle cx="773.49" cy="380.73" r="1.77" fill="#b06a86"/>
<circle cx="787.74" cy="380.73" r="1.77" fill="#1c2b74"/>
<circle cx="801.99" cy="380.73" r="1.77" fill="#1c2b74"/>
<circle cx="816.24" cy="380.73" r="1.77" fill="#1c2b74"/>
<circle cx="830.49" cy="380.73" r="1.77" fill="#1c2b74"/>
<circle cx="844.74" cy="380.73" r="1.77" fill="#1c2b74"/>
<circle cx="858.99" cy="380.73" r="1.77" fill="#1c2b74"/>
<circle cx="873.24" cy="380.73" r="1.77" fill="#1c2b74"/>
<circle cx="887.49" cy="380.73" r="1.77" fill="#1c2b74"/>
<circle cx="617.92" cy="396.38" r="6.50" fill="#d81a1f"/>
<circle cx="632.17" cy="396.38" r="6.50" fill="#d81a1f"/>
<circle cx="646.42" cy="396.38" r="6.50" fill="#d81a1f"/>
<circle cx="659.49" cy="396.38" r="1.77" fill="#e5171c"/>
<circle cx="673.74" cy="396.38" r="1.77" fill="#e5171c"/>
<circle cx="689.17" cy="396.38" r="6.50" fill="#d81a1f"/>
<circle cx="702.24" cy="396.38" r="1.77" fill="#e5171c"/>
<circle cx="716.49" cy="396.38" r="1.77" fill="#e5171c"/>
<circle cx="730.74" cy="396.38" r="1.77" fill="#e5171c"/>
<circle cx="744.99" cy="396.38" r="1.77" fill="#e5171c"/>
<circle cx="760.42" cy="396.38" r="6.50" fill="#f2821f"/>
<circle cx="774.61" cy="396.38" r="6.24" fill="#f5aa1e"/>
<circle cx="787.74" cy="396.38" r="1.77" fill="#e6b04a"/>
<circle cx="801.99" cy="396.38" r="1.77" fill="#e6b04a"/>
<circle cx="816.24" cy="396.38" r="1.77" fill="#e6b04a"/>
<circle cx="830.49" cy="396.38" r="1.77" fill="#e6b04a"/>
<circle cx="844.74" cy="396.38" r="1.77" fill="#e6b04a"/>
<circle cx="858.99" cy="396.38" r="1.77" fill="#e6b04a"/>
<circle cx="873.24" cy="396.38" r="1.77" fill="#e6b04a"/>
<circle cx="887.49" cy="396.38" r="1.77" fill="#e6b04a"/>
<circle cx="616.74" cy="412.02" r="1.77" fill="#6e3c9e"/>
<circle cx="632.17" cy="412.02" r="6.50" fill="#8c47a6"/>
<circle cx="645.24" cy="412.02" r="1.77" fill="#6e3c9e"/>
<circle cx="659.49" cy="412.02" r="1.77" fill="#6e3c9e"/>
<circle cx="673.74" cy="412.02" r="1.77" fill="#6e3c9e"/>
<circle cx="687.99" cy="412.02" r="1.77" fill="#1c2b74"/>
<circle cx="702.24" cy="412.02" r="1.77" fill="#1c2b74"/>
<circle cx="716.49" cy="412.02" r="1.77" fill="#6e3c9e"/>
<circle cx="730.74" cy="412.02" r="1.77" fill="#1c2b74"/>
<circle cx="744.99" cy="412.02" r="1.77" fill="#1c2b74"/>
<circle cx="759.24" cy="412.02" r="1.77" fill="#1c2b74"/>
<circle cx="773.49" cy="412.02" r="1.77" fill="#1c2b74"/>
<circle cx="788.99" cy="412.02" r="6.76" fill="#0c3a9b"/>
<circle cx="801.99" cy="412.02" r="1.77" fill="#1c2b74"/>
<circle cx="816.24" cy="412.02" r="1.77" fill="#1c2b74"/>
<circle cx="830.49" cy="412.02" r="1.77" fill="#1c2b74"/>
<circle cx="844.74" cy="412.02" r="1.77" fill="#1c2b74"/>
<circle cx="858.99" cy="412.02" r="1.77" fill="#1c2b74"/>
<circle cx="873.24" cy="412.02" r="1.77" fill="#1c2b74"/>
<circle cx="887.49" cy="412.02" r="1.77" fill="#1c2b74"/>
<circle cx="616.74" cy="427.67" r="1.77" fill="#6e3c9e"/>
<circle cx="630.99" cy="427.67" r="1.77" fill="#6e3c9e"/>
<circle cx="645.24" cy="427.67" r="1.77" fill="#6e3c9e"/>
<circle cx="660.61" cy="427.67" r="6.24" fill="#b06a86"/>
<circle cx="673.74" cy="427.67" r="1.77" fill="#6e3c9e"/>
<circle cx="687.99" cy="427.67" r="1.77" fill="#6e3c9e"/>
<circle cx="702.24" cy="427.67" r="1.77" fill="#6e3c9e"/>
<circle cx="716.49" cy="427.67" r="1.77" fill="#6e3c9e"/>
<circle cx="730.74" cy="427.67" r="1.77" fill="#6e3c9e"/>
<circle cx="744.99" cy="427.67" r="1.77" fill="#6e3c9e"/>
<circle cx="759.24" cy="427.67" r="1.77" fill="#1c2b74"/>
<circle cx="773.49" cy="427.67" r="1.77" fill="#1c2b74"/>
<circle cx="787.74" cy="427.67" r="1.77" fill="#1c2b74"/>
<circle cx="801.99" cy="427.67" r="1.77" fill="#1c2b74"/>
<circle cx="816.24" cy="427.67" r="1.77" fill="#1c2b74"/>
<circle cx="830.49" cy="427.67" r="1.77" fill="#1c2b74"/>
<circle cx="844.74" cy="427.67" r="1.77" fill="#1c2b74"/>
<circle cx="858.99" cy="427.67" r="1.77" fill="#1c2b74"/>
<circle cx="873.24" cy="427.67" r="1.77" fill="#1c2b74"/>
<circle cx="887.49" cy="427.67" r="1.77" fill="#1c2b74"/>
<circle cx="616.74" cy="443.31" r="1.77" fill="#6e3c9e"/>
<circle cx="630.99" cy="443.31" r="1.77" fill="#6e3c9e"/>
<circle cx="645.24" cy="443.31" r="1.77" fill="#6e3c9e"/>
<circle cx="660.61" cy="443.31" r="6.24" fill="#6e3c9e"/>
<circle cx="673.74" cy="443.31" r="1.77" fill="#6e3c9e"/>
<circle cx="687.99" cy="443.31" r="1.77" fill="#6e3c9e"/>
<circle cx="702.24" cy="443.31" r="1.77" fill="#6e3c9e"/>
<circle cx="716.49" cy="443.31" r="1.77" fill="#1c2b74"/>
<circle cx="730.74" cy="443.31" r="1.77" fill="#1c2b74"/>
<circle cx="744.99" cy="443.31" r="1.77" fill="#6e3c9e"/>
<circle cx="759.24" cy="443.31" r="1.77" fill="#1c2b74"/>
<circle cx="773.49" cy="443.31" r="1.77" fill="#1c2b74"/>
<circle cx="787.74" cy="443.31" r="1.77" fill="#1c2b74"/>
<circle cx="801.99" cy="443.31" r="1.77" fill="#1c2b74"/>
<circle cx="816.24" cy="443.31" r="1.77" fill="#1c2b74"/>
<circle cx="830.49" cy="443.31" r="1.77" fill="#1c2b74"/>
<circle cx="844.74" cy="443.31" r="1.77" fill="#1c2b74"/>
<circle cx="858.99" cy="443.31" r="1.77" fill="#1c2b74"/>
<circle cx="873.24" cy="443.31" r="1.77" fill="#1c2b74"/>
<circle cx="887.49" cy="443.31" r="1.77" fill="#1c2b74"/>
<circle cx="617.86" cy="458.96" r="6.24" fill="#b06a86"/>
<circle cx="632.17" cy="458.96" r="6.50" fill="#f6c51b"/>
<circle cx="646.36" cy="458.96" r="6.24" fill="#b06a86"/>
<circle cx="659.49" cy="458.96" r="1.77" fill="#1c2b74"/>
<circle cx="673.74" cy="458.96" r="1.77" fill="#6e3c9e"/>
<circle cx="689.11" cy="458.96" r="6.24" fill="#8c47a6"/>
<circle cx="702.24" cy="458.96" r="1.77" fill="#6e3c9e"/>
<circle cx="716.49" cy="458.96" r="1.77" fill="#6e3c9e"/>
<circle cx="730.74" cy="458.96" r="1.77" fill="#6e3c9e"/>
<circle cx="744.99" cy="458.96" r="1.77" fill="#6e3c9e"/>
<circle cx="759.24" cy="458.96" r="1.77" fill="#e6b04a"/>
<circle cx="773.49" cy="458.96" r="1.77" fill="#e6b04a"/>
<circle cx="788.92" cy="458.96" r="6.50" fill="#e6b04a"/>
<circle cx="801.99" cy="458.96" r="1.77" fill="#e6b04a"/>
<circle cx="816.24" cy="458.96" r="1.77" fill="#e6b04a"/>
<circle cx="830.49" cy="458.96" r="1.77" fill="#e6b04a"/>
<circle cx="844.74" cy="458.96" r="1.77" fill="#e6b04a"/>
<circle cx="858.99" cy="458.96" r="1.77" fill="#e6b04a"/>
<circle cx="873.24" cy="458.96" r="1.77" fill="#e6b04a"/>
<circle cx="887.49" cy="458.96" r="1.77" fill="#1c2b74"/>
<circle cx="616.74" cy="474.60" r="1.77" fill="#6e3c9e"/>
<circle cx="632.17" cy="474.60" r="6.50" fill="#f5aa1e"/>
<circle cx="646.42" cy="474.60" r="6.50" fill="#f5aa1e"/>
<circle cx="660.67" cy="474.60" r="6.50" fill="#e6b04a"/>
<circle cx="674.92" cy="474.60" r="6.50" fill="#f5aa1e"/>
<circle cx="689.17" cy="474.60" r="6.50" fill="#f2821f"/>
<circle cx="703.42" cy="474.60" r="6.50" fill="#f5aa1e"/>
<circle cx="717.61" cy="474.60" r="6.24" fill="#f6c51b"/>
<circle cx="731.79" cy="474.60" r="5.98" fill="#f6c51b"/>
<circle cx="745.78" cy="474.60" r="4.94" fill="#d99b62"/>
<circle cx="759.24" cy="474.60" r="1.77" fill="#f6c51b"/>
<circle cx="773.49" cy="474.60" r="1.77" fill="#f6c51b"/>
<circle cx="788.92" cy="474.60" r="6.50" fill="#f6c51b"/>
<circle cx="801.99" cy="474.60" r="1.77" fill="#f6c51b"/>
<circle cx="816.24" cy="474.60" r="1.77" fill="#f6c51b"/>
<circle cx="830.49" cy="474.60" r="1.77" fill="#f6c51b"/>
<circle cx="844.74" cy="474.60" r="1.77" fill="#f6c51b"/>
<circle cx="858.99" cy="474.60" r="1.77" fill="#f6c51b"/>
<circle cx="873.24" cy="474.60" r="1.77" fill="#f6c51b"/>
<circle cx="887.49" cy="474.60" r="1.77" fill="#1c2b74"/>
<circle cx="616.74" cy="490.25" r="1.77" fill="#1c2b74"/>
<circle cx="630.99" cy="490.25" r="1.77" fill="#1c2b74"/>
<circle cx="645.24" cy="490.25" r="1.77" fill="#1c2b74"/>
<circle cx="660.67" cy="490.25" r="6.50" fill="#0c3a9b"/>
<circle cx="673.74" cy="490.25" r="1.77" fill="#1c2b74"/>
<circle cx="687.99" cy="490.25" r="1.77" fill="#1c2b74"/>
<circle cx="702.24" cy="490.25" r="1.77" fill="#1c2b74"/>
<circle cx="716.49" cy="490.25" r="1.77" fill="#1c2b74"/>
<circle cx="730.74" cy="490.25" r="1.77" fill="#1c2b74"/>
<circle cx="744.99" cy="490.25" r="1.77" fill="#1c2b74"/>
<circle cx="759.24" cy="490.25" r="1.77" fill="#1c2b74"/>
<circle cx="773.49" cy="490.25" r="1.77" fill="#1c2b74"/>
<circle cx="787.74" cy="490.25" r="1.77" fill="#1c2b74"/>
<circle cx="801.99" cy="490.25" r="1.77" fill="#1c2b74"/>
<circle cx="816.24" cy="490.25" r="1.77" fill="#1c2b74"/>
<circle cx="830.49" cy="490.25" r="1.77" fill="#1c2b74"/>
<circle cx="844.74" cy="490.25" r="1.77" fill="#1c2b74"/>
<circle cx="858.99" cy="490.25" r="1.77" fill="#1c2b74"/>
<circle cx="873.24" cy="490.25" r="1.77" fill="#1c2b74"/>
<circle cx="887.49" cy="490.25" r="1.77" fill="#1c2b74"/>
<circle cx="617.92" cy="505.89" r="6.50" fill="#41379a"/>
<circle cx="632.17" cy="505.89" r="6.50" fill="#e6b04a"/>
<circle cx="646.42" cy="505.89" r="6.50" fill="#41379a"/>
<circle cx="659.49" cy="505.89" r="1.77" fill="#1c2b74"/>
<circle cx="673.74" cy="505.89" r="1.77" fill="#1c2b74"/>
<circle cx="689.04" cy="505.89" r="5.98" fill="#0c3a9b"/>
<circle cx="702.24" cy="505.89" r="1.77" fill="#1c2b74"/>
<circle cx="716.49" cy="505.89" r="1.77" fill="#1c2b74"/>
<circle cx="730.74" cy="505.89" r="1.77" fill="#1c2b74"/>
<circle cx="744.99" cy="505.89" r="1.77" fill="#1c2b74"/>
<circle cx="759.24" cy="505.89" r="1.77" fill="#e6b04a"/>
<circle cx="773.49" cy="505.89" r="1.77" fill="#e6b04a"/>
<circle cx="787.74" cy="505.89" r="1.77" fill="#e6b04a"/>
<circle cx="801.99" cy="505.89" r="1.77" fill="#e6b04a"/>
<circle cx="816.24" cy="505.89" r="1.77" fill="#1c2b74"/>
<circle cx="830.49" cy="505.89" r="1.77" fill="#1c2b74"/>
<circle cx="844.74" cy="505.89" r="1.77" fill="#e6b04a"/>
<circle cx="858.99" cy="505.89" r="1.77" fill="#e6b04a"/>
<circle cx="873.24" cy="505.89" r="1.77" fill="#1c2b74"/>
<circle cx="887.49" cy="505.89" r="1.77" fill="#1c2b74"/>
<text transform="translate(601.7,23.80) scale(1,1.06)" font-size="9.8" text-anchor="end"><tspan fill="#d0202e" stroke="#d0202e">VEGFB</tspan> <tspan fill="#284a9a" stroke="#284a9a">NRP1</tspan></text>
<text transform="translate(601.7,39.45) scale(1,1.06)" font-size="9.8" text-anchor="end"><tspan fill="#d0202e" stroke="#d0202e">VEGFB</tspan> <tspan fill="#284a9a" stroke="#284a9a">FLT1 complex</tspan></text>
<text transform="translate(601.7,55.09) scale(1,1.06)" font-size="9.8" text-anchor="end"><tspan fill="#d0202e" stroke="#d0202e">VEGFB</tspan> <tspan fill="#284a9a" stroke="#284a9a">FLT1</tspan></text>
<text transform="translate(601.7,70.74) scale(1,1.06)" font-size="9.8" text-anchor="end"><tspan fill="#d0202e" stroke="#d0202e">VEGFB</tspan> <tspan fill="#284a9a" stroke="#284a9a">ADRB2</tspan></text>
<text transform="translate(601.7,86.38) scale(1,1.06)" font-size="9.8" text-anchor="end"><tspan fill="#d0202e" stroke="#d0202e">VEGFA</tspan> <tspan fill="#284a9a" stroke="#284a9a">NRP2</tspan></text>
<text transform="translate(601.7,102.03) scale(1,1.06)" font-size="9.8" text-anchor="end"><tspan fill="#d0202e" stroke="#d0202e">VEGFA</tspan> <tspan fill="#284a9a" stroke="#284a9a">NRP1</tspan></text>
<text transform="translate(601.7,117.67) scale(1,1.06)" font-size="9.8" text-anchor="end"><tspan fill="#d0202e" stroke="#d0202e">VEGFA</tspan> <tspan fill="#284a9a" stroke="#284a9a">KDR</tspan></text>
<text transform="translate(601.7,133.31) scale(1,1.06)" font-size="9.8" text-anchor="end"><tspan fill="#d0202e" stroke="#d0202e">VEGFA</tspan> <tspan fill="#284a9a" stroke="#284a9a">FLT1 complex</tspan></text>
<text transform="translate(601.7,148.96) scale(1,1.06)" font-size="9.8" text-anchor="end"><tspan fill="#d0202e" stroke="#d0202e">VEGFA</tspan> <tspan fill="#284a9a" stroke="#284a9a">FLT1</tspan></text>
<text transform="translate(601.7,164.61) scale(1,1.06)" font-size="9.8" text-anchor="end"><tspan fill="#d0202e" stroke="#d0202e">PGF</tspan> <tspan fill="#284a9a" stroke="#284a9a">FLT1</tspan></text>
<text transform="translate(601.7,180.25) scale(1,1.06)" font-size="9.8" text-anchor="end"><tspan fill="#d0202e" stroke="#d0202e">PDGFC</tspan> <tspan fill="#284a9a" stroke="#284a9a">FLT4</tspan></text>
<text transform="translate(601.7,195.90) scale(1,1.06)" font-size="9.8" text-anchor="end"><tspan fill="#d0202e" stroke="#d0202e">IGF2</tspan> <tspan fill="#284a9a" stroke="#284a9a">IGF2R</tspan></text>
<text transform="translate(601.7,211.54) scale(1,1.06)" font-size="9.8" text-anchor="end"><tspan fill="#d0202e" stroke="#d0202e">IGF2</tspan> <tspan fill="#284a9a" stroke="#284a9a">IGF1R</tspan></text>
<text transform="translate(601.7,227.19) scale(1,1.06)" font-size="9.8" text-anchor="end"><tspan fill="#d0202e" stroke="#d0202e">IGF1</tspan> <tspan fill="#284a9a" stroke="#284a9a">IGF1R</tspan></text>
<text transform="translate(601.7,242.83) scale(1,1.06)" font-size="9.8" text-anchor="end"><tspan fill="#d0202e" stroke="#d0202e">IGF1</tspan> <tspan fill="#284a9a" stroke="#284a9a">a6b4 complex</tspan></text>
<text transform="translate(601.7,258.47) scale(1,1.06)" font-size="9.8" text-anchor="end"><tspan fill="#d0202e" stroke="#d0202e">HGF</tspan> <tspan fill="#284a9a" stroke="#284a9a">MET</tspan></text>
<text transform="translate(601.7,274.12) scale(1,1.06)" font-size="9.8" text-anchor="end"><tspan fill="#d0202e" stroke="#d0202e">HGF</tspan> <tspan fill="#284a9a" stroke="#284a9a">CD44</tspan></text>
<text transform="translate(601.7,289.76) scale(1,1.06)" font-size="9.8" text-anchor="end"><tspan fill="#d0202e" stroke="#d0202e">FGF9</tspan> <tspan fill="#284a9a" stroke="#284a9a">FGFR4</tspan></text>
<text transform="translate(601.7,305.41) scale(1,1.06)" font-size="9.8" text-anchor="end"><tspan fill="#d0202e" stroke="#d0202e">FGF9</tspan> <tspan fill="#284a9a" stroke="#284a9a">FGFR3</tspan></text>
<text transform="translate(601.7,321.05) scale(1,1.06)" font-size="9.8" text-anchor="end"><tspan fill="#d0202e" stroke="#d0202e">FGF9</tspan> <tspan fill="#284a9a" stroke="#284a9a">FGFR2</tspan></text>
<text transform="translate(601.7,336.70) scale(1,1.06)" font-size="9.8" text-anchor="end"><tspan fill="#d0202e" stroke="#d0202e">FGF9</tspan> <tspan fill="#284a9a" stroke="#284a9a">FGFR1</tspan></text>
<text transform="translate(601.7,352.34) scale(1,1.06)" font-size="9.8" text-anchor="end"><tspan fill="#d0202e" stroke="#d0202e">FGF7</tspan> <tspan fill="#284a9a" stroke="#284a9a">FGFR4</tspan></text>
<text transform="translate(601.7,367.99) scale(1,1.06)" font-size="9.8" text-anchor="end"><tspan fill="#d0202e" stroke="#d0202e">FGF7</tspan> <tspan fill="#284a9a" stroke="#284a9a">FGFR3</tspan></text>
<text transform="translate(601.7,383.63) scale(1,1.06)" font-size="9.8" text-anchor="end"><tspan fill="#d0202e" stroke="#d0202e">FGF7</tspan> <tspan fill="#284a9a" stroke="#284a9a">FGFR2</tspan></text>
<text transform="translate(601.7,399.28) scale(1,1.06)" font-size="9.8" text-anchor="end"><tspan fill="#d0202e" stroke="#d0202e">FGF7</tspan> <tspan fill="#284a9a" stroke="#284a9a">FGFR1</tspan></text>
<text transform="translate(601.7,414.92) scale(1,1.06)" font-size="9.8" text-anchor="end"><tspan fill="#d0202e" stroke="#d0202e">FGF2</tspan> <tspan fill="#284a9a" stroke="#284a9a">FGFR4</tspan></text>
<text transform="translate(601.7,430.57) scale(1,1.06)" font-size="9.8" text-anchor="end"><tspan fill="#d0202e" stroke="#d0202e">FGF2</tspan> <tspan fill="#284a9a" stroke="#284a9a">FGFR3</tspan></text>
<text transform="translate(601.7,446.21) scale(1,1.06)" font-size="9.8" text-anchor="end"><tspan fill="#d0202e" stroke="#d0202e">FGF2</tspan> <tspan fill="#284a9a" stroke="#284a9a">FGFR2</tspan></text>
<text transform="translate(601.7,461.86) scale(1,1.06)" font-size="9.8" text-anchor="end"><tspan fill="#d0202e" stroke="#d0202e">FGF2</tspan> <tspan fill="#284a9a" stroke="#284a9a">FGFR1</tspan></text>
<text transform="translate(601.7,477.50) scale(1,1.06)" font-size="9.8" text-anchor="end"><tspan fill="#d0202e" stroke="#d0202e">FGF2</tspan> <tspan fill="#284a9a" stroke="#284a9a">CD44</tspan></text>
<text transform="translate(601.7,493.15) scale(1,1.06)" font-size="9.8" text-anchor="end"><tspan fill="#d0202e" stroke="#d0202e">FGF10</tspan> <tspan fill="#284a9a" stroke="#284a9a">FGFR2</tspan></text>
<text transform="translate(601.7,508.79) scale(1,1.06)" font-size="9.8" text-anchor="end"><tspan fill="#d0202e" stroke="#d0202e">FGF10</tspan> <tspan fill="#284a9a" stroke="#284a9a">FGFR1</tspan></text>
<text transform="translate(620.40,522.5) rotate(-90) scale(1,1.06)" font-size="10.1" text-anchor="end" fill="#284a9a" stroke="#284a9a">Endothelial</text>
<text transform="translate(634.65,522.5) rotate(-90) scale(1,1.06)" font-size="10.1" text-anchor="end" fill="#284a9a" stroke="#284a9a">iCAF</text>
<text transform="translate(648.90,522.5) rotate(-90) scale(1,1.06)" font-size="10.1" text-anchor="end" fill="#284a9a" stroke="#284a9a">mCAF</text>
<text transform="translate(663.15,522.5) rotate(-90) scale(1,1.06)" font-size="10.1" text-anchor="end" fill="#284a9a" stroke="#284a9a">Epithelial</text>
<text transform="translate(677.40,522.5) rotate(-90) scale(1,1.06)" font-size="10.1" text-anchor="end" fill="#284a9a" stroke="#284a9a">CD1C+ DC</text>
<text transform="translate(691.65,522.5) rotate(-90) scale(1,1.06)" font-size="10.1" text-anchor="end" fill="#284a9a" stroke="#284a9a">Mast cell</text>
<text transform="translate(705.90,522.5) rotate(-90) scale(1,1.06)" font-size="10.1" text-anchor="end" fill="#284a9a" stroke="#284a9a">TAM</text>
<text transform="translate(720.15,522.5) rotate(-90) scale(1,1.06)" font-size="10.1" text-anchor="end" fill="#284a9a" stroke="#284a9a">NKT cell</text>
<text transform="translate(734.40,522.5) rotate(-90) scale(1,1.06)" font-size="10.1" text-anchor="end" fill="#284a9a" stroke="#284a9a">LAMP3+ DC</text>
<text transform="translate(748.65,522.5) rotate(-90) scale(1,1.06)" font-size="10.1" text-anchor="end" fill="#284a9a" stroke="#284a9a">CLEC9A+ DC</text>
<text transform="translate(762.90,538.4) rotate(-90) scale(1,1.06)" font-size="10.1" text-anchor="end" fill="#d0202e" stroke="#d0202e">mCAF</text>
<text transform="translate(777.15,538.4) rotate(-90) scale(1,1.06)" font-size="10.1" text-anchor="end" fill="#d0202e" stroke="#d0202e">Mast cell</text>
<text transform="translate(791.40,538.4) rotate(-90) scale(1,1.06)" font-size="10.1" text-anchor="end" fill="#d0202e" stroke="#d0202e">Endothelial</text>
<text transform="translate(805.65,538.4) rotate(-90) scale(1,1.06)" font-size="10.1" text-anchor="end" fill="#d0202e" stroke="#d0202e">Epithelial</text>
<text transform="translate(819.90,538.4) rotate(-90) scale(1,1.06)" font-size="10.1" text-anchor="end" fill="#d0202e" stroke="#d0202e">CD1C+ DC</text>
<text transform="translate(834.15,538.4) rotate(-90) scale(1,1.06)" font-size="10.1" text-anchor="end" fill="#d0202e" stroke="#d0202e">Monocyte</text>
<text transform="translate(848.40,538.4) rotate(-90) scale(1,1.06)" font-size="10.1" text-anchor="end" fill="#d0202e" stroke="#d0202e">TAM</text>
<text transform="translate(862.65,538.4) rotate(-90) scale(1,1.06)" font-size="10.1" text-anchor="end" fill="#d0202e" stroke="#d0202e">CD4+ T cell</text>
<text transform="translate(876.90,538.4) rotate(-90) scale(1,1.06)" font-size="10.1" text-anchor="end" fill="#d0202e" stroke="#d0202e">CLEC9A+ DC</text>
<text transform="translate(891.15,538.4) rotate(-90) scale(1,1.06)" font-size="10.1" text-anchor="end" fill="#d0202e" stroke="#d0202e">B cell</text>
<line x1="755.2" y1="534.3" x2="889.6" y2="534.3" stroke="#111" stroke-width="1.2"/>
<text transform="translate(822.4,530) scale(1,1.06)" font-size="9.8" text-anchor="middle" fill="#284a9a" stroke="#284a9a">iCAF</text>
<line x1="612.8" y1="592.1" x2="748.2" y2="592.1" stroke="#606060" stroke-width="1.5"/>
<text transform="translate(680.8,604.5) scale(1,1.06)" font-size="9.8" text-anchor="middle" fill="#d0202e" stroke="#d0202e">iCAF</text>
<text transform="translate(903.8,157.4) scale(1,1.06)" font-size="10" fill="#111" stroke="#111">−log10(<tspan font-style="italic">P</tspan> value)</text>
<circle cx="920.8" cy="166.7" r="1.1" fill="#000"/>
<text transform="translate(929.2,169.9) scale(1,1.06)" font-size="9" fill="#111" stroke="#111">0</text>
<circle cx="920.8" cy="180.9" r="4.0" fill="#000"/>
<text transform="translate(929.2,184.1) scale(1,1.06)" font-size="9" fill="#111" stroke="#111">1</text>
<circle cx="920.8" cy="194.6" r="5.1" fill="#000"/>
<text transform="translate(929.2,197.8) scale(1,1.06)" font-size="9" fill="#111" stroke="#111">2</text>
<circle cx="920.8" cy="209.3" r="6.1" fill="#000"/>
<text transform="translate(929.2,212.5) scale(1,1.06)" font-size="9" fill="#111" stroke="#111">3</text>
<defs><linearGradient id="gc" x1="0" y1="0" x2="0" y2="1"><stop offset="0.000" stop-color="#c4141f"/><stop offset="0.103" stop-color="#c8151f"/><stop offset="0.122" stop-color="#e3141b"/><stop offset="0.285" stop-color="#e3141b"/><stop offset="0.321" stop-color="#ec3d1e"/><stop offset="0.358" stop-color="#f07020"/><stop offset="0.394" stop-color="#f5941e"/><stop offset="0.439" stop-color="#f5b01e"/><stop offset="0.494" stop-color="#f5c518"/><stop offset="0.530" stop-color="#e8b848"/><stop offset="0.557" stop-color="#d4a070"/><stop offset="0.603" stop-color="#b07890"/><stop offset="0.630" stop-color="#a06aa0"/><stop offset="0.666" stop-color="#6a3aa0"/><stop offset="0.721" stop-color="#3a3aa0"/><stop offset="0.757" stop-color="#0d3a9a"/><stop offset="0.920" stop-color="#0d3a9a"/><stop offset="0.947" stop-color="#1c2a6c"/><stop offset="1.000" stop-color="#1c2a6c"/></linearGradient></defs>
<rect x="914.4" y="278.8" width="14.8" height="75" fill="url(#gc)"/>
<line x1="914.4" y1="292.7" x2="917.2" y2="292.7" stroke="#fff" stroke-opacity="0.6" stroke-width="0.8"/>
<line x1="926.4" y1="292.7" x2="929.2" y2="292.7" stroke="#fff" stroke-opacity="0.6" stroke-width="0.8"/>
<text transform="translate(931.8,296.3) scale(1,1.06)" font-size="10" fill="#111" stroke="#111">2</text>
<line x1="914.4" y1="305.9" x2="917.2" y2="305.9" stroke="#fff" stroke-opacity="0.6" stroke-width="0.8"/>
<line x1="926.4" y1="305.9" x2="929.2" y2="305.9" stroke="#fff" stroke-opacity="0.6" stroke-width="0.8"/>
<text transform="translate(931.8,309.5) scale(1,1.06)" font-size="10" fill="#111" stroke="#111">1</text>
<line x1="914.4" y1="319.6" x2="917.2" y2="319.6" stroke="#fff" stroke-opacity="0.6" stroke-width="0.8"/>
<line x1="926.4" y1="319.6" x2="929.2" y2="319.6" stroke="#fff" stroke-opacity="0.6" stroke-width="0.8"/>
<text transform="translate(931.8,323.2) scale(1,1.06)" font-size="10" fill="#111" stroke="#111">0</text>
<line x1="914.4" y1="332.9" x2="917.2" y2="332.9" stroke="#fff" stroke-opacity="0.6" stroke-width="0.8"/>
<line x1="926.4" y1="332.9" x2="929.2" y2="332.9" stroke="#fff" stroke-opacity="0.6" stroke-width="0.8"/>
<text transform="translate(931.8,336.5) scale(1,1.06)" font-size="10" fill="#111" stroke="#111">−1</text>
<line x1="914.4" y1="347.2" x2="917.2" y2="347.2" stroke="#fff" stroke-opacity="0.6" stroke-width="0.8"/>
<line x1="926.4" y1="347.2" x2="929.2" y2="347.2" stroke="#fff" stroke-opacity="0.6" stroke-width="0.8"/>
<text transform="translate(931.8,350.8) scale(1,1.06)" font-size="10" fill="#111" stroke="#111">−2</text>
<text transform="translate(958.6,385.9) rotate(-90) scale(1,1.06)" font-size="10.1" fill="#111" stroke="#111">log2(mean(ligand, receptor))</text>
</svg>
</body></html>
